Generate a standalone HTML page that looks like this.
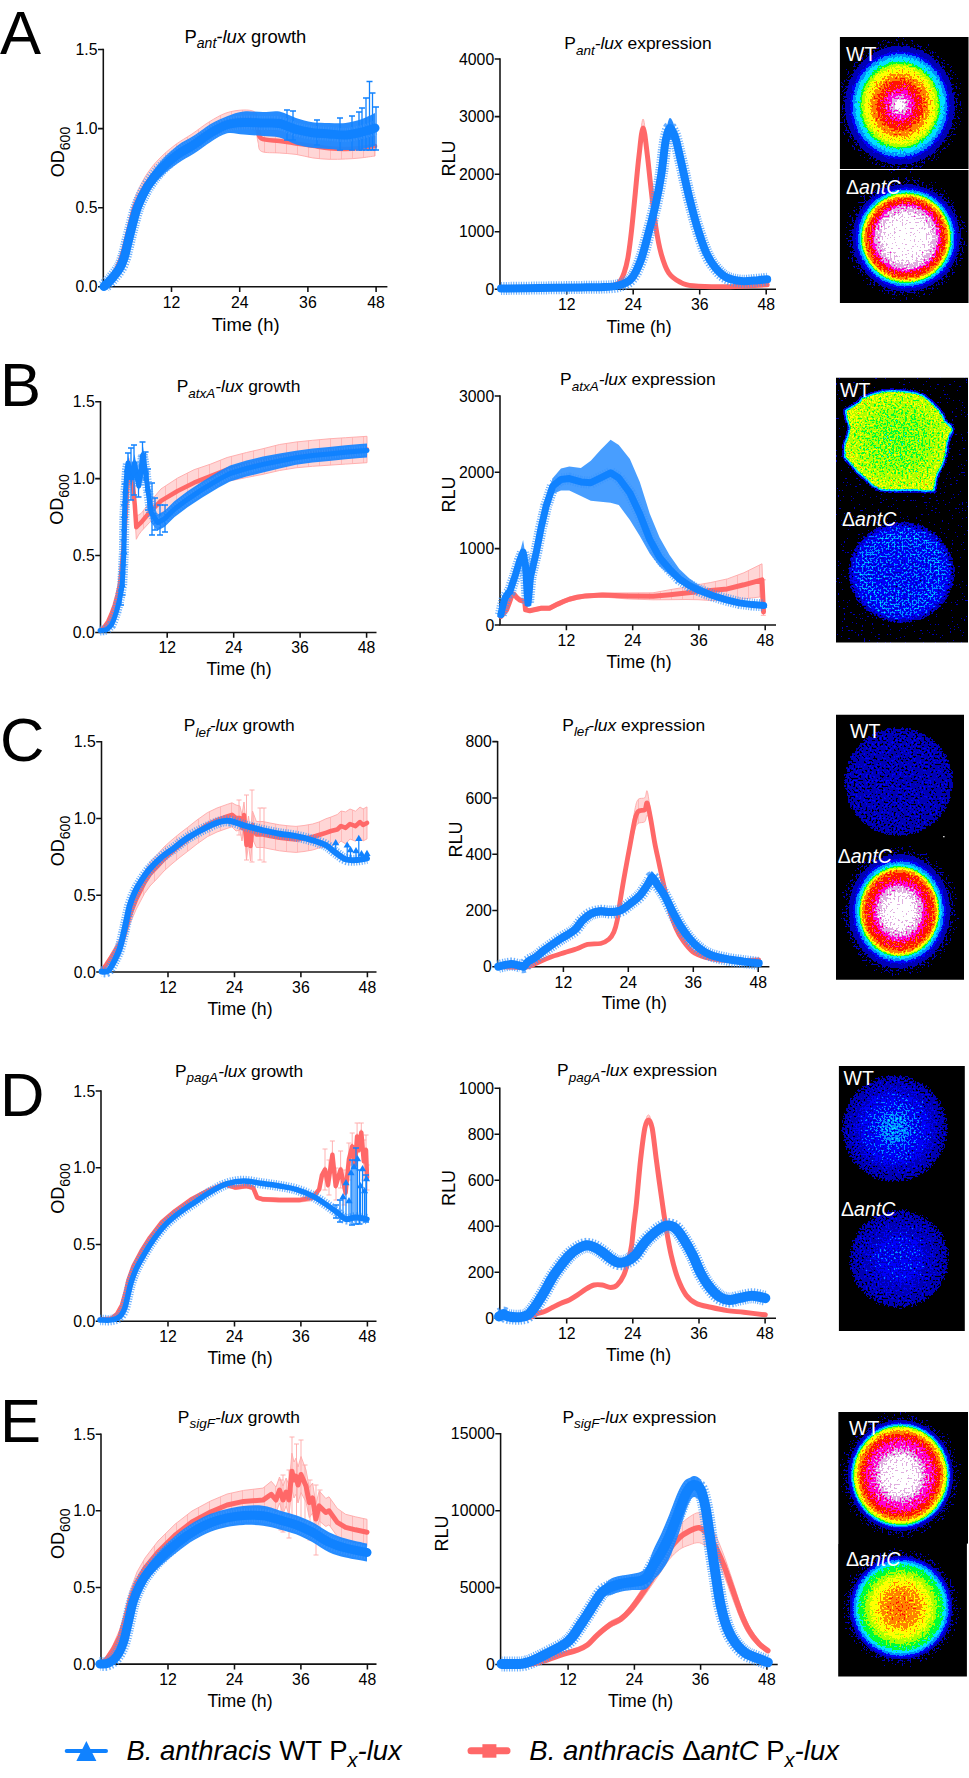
<!DOCTYPE html><html><head><meta charset="utf-8"><title>Figure</title><style>html,body{margin:0;padding:0;background:#fff;}svg{display:block;}</style></head><body>
<svg width="969" height="1778" viewBox="0 0 969 1778" font-family='"Liberation Sans", sans-serif' fill="#000">
<rect width="969" height="1778" fill="#fff"/>
<defs><filter id="lutR" x="0" y="0" width="100%" height="100%" filterUnits="objectBoundingBox" color-interpolation-filters="sRGB"><feTurbulence type="fractalNoise" baseFrequency="0.5" numOctaves="1" seed="4" result="n0"/><feColorMatrix in="n0" type="matrix" values="1 0 0 0 0  1 0 0 0 0  1 0 0 0 0  0 0 0 0 1" result="n"/><feComposite in="SourceGraphic" in2="n" operator="arithmetic" k1="0.300" k2="0.850" k3="0.060" k4="-0.030" result="g"/><feComponentTransfer in="g"><feFuncR type="discrete" tableValues="0.000 0.000 0.000 0.000 0.000 0.000 0.667 1.000 1.000 1.000 1.000 0.882 1.000"/><feFuncG type="discrete" tableValues="0.000 0.000 0.000 0.549 0.882 1.000 1.000 1.000 0.510 0.078 0.000 0.686 1.000"/><feFuncB type="discrete" tableValues="0.000 0.706 0.980 1.000 1.000 0.196 0.000 0.000 0.000 0.000 0.824 0.882 1.000"/><feFuncA type="linear" slope="0" intercept="1"/></feComponentTransfer></filter><filter id="lutB" x="0" y="0" width="100%" height="100%" filterUnits="objectBoundingBox" color-interpolation-filters="sRGB"><feTurbulence type="fractalNoise" baseFrequency="0.5" numOctaves="1" seed="7" result="n0"/><feColorMatrix in="n0" type="matrix" values="1 0 0 0 0  1 0 0 0 0  1 0 0 0 0  0 0 0 0 1" result="n"/><feComposite in="SourceGraphic" in2="n" operator="arithmetic" k1="0.900" k2="0.550" k3="0.200" k4="-0.100" result="g"/><feComponentTransfer in="g"><feFuncR type="discrete" tableValues="0.000 0.000 0.000 0.000 0.000 0.000 0.667 1.000 1.000 1.000 1.000 0.882 1.000"/><feFuncG type="discrete" tableValues="0.000 0.000 0.000 0.549 0.882 1.000 1.000 1.000 0.510 0.078 0.000 0.686 1.000"/><feFuncB type="discrete" tableValues="0.000 0.706 0.980 1.000 1.000 0.196 0.000 0.000 0.000 0.000 0.824 0.882 1.000"/><feFuncA type="linear" slope="0" intercept="1"/></feComponentTransfer></filter><filter id="lutB2" x="0" y="0" width="100%" height="100%" filterUnits="objectBoundingBox" color-interpolation-filters="sRGB"><feTurbulence type="fractalNoise" baseFrequency="0.5" numOctaves="1" seed="11" result="n0"/><feColorMatrix in="n0" type="matrix" values="1 0 0 0 0  1 0 0 0 0  1 0 0 0 0  0 0 0 0 1" result="n"/><feComposite in="SourceGraphic" in2="n" operator="arithmetic" k1="0.900" k2="0.550" k3="0.220" k4="-0.110" result="g"/><feComponentTransfer in="g"><feFuncR type="discrete" tableValues="0.000 0.000 0.000 0.000 0.000 0.000 0.667 1.000 1.000 1.000 1.000 0.882 1.000"/><feFuncG type="discrete" tableValues="0.000 0.000 0.000 0.549 0.882 1.000 1.000 1.000 0.510 0.078 0.000 0.686 1.000"/><feFuncB type="discrete" tableValues="0.000 0.706 0.980 1.000 1.000 0.196 0.000 0.000 0.000 0.000 0.824 0.882 1.000"/><feFuncA type="linear" slope="0" intercept="1"/></feComponentTransfer></filter><filter id="lutY" x="0" y="0" width="100%" height="100%" filterUnits="objectBoundingBox" color-interpolation-filters="sRGB"><feTurbulence type="fractalNoise" baseFrequency="0.55" numOctaves="1" seed="13" result="n0"/><feColorMatrix in="n0" type="matrix" values="1 0 0 0 0  1 0 0 0 0  1 0 0 0 0  0 0 0 0 1" result="n"/><feComposite in="SourceGraphic" in2="n" operator="arithmetic" k1="0.550" k2="0.725" k3="0.120" k4="-0.060" result="g"/><feComponentTransfer in="g"><feFuncR type="discrete" tableValues="0.000 0.000 0.000 0.000 0.000 0.000 0.667 1.000 1.000 1.000 1.000 0.882 1.000"/><feFuncG type="discrete" tableValues="0.000 0.000 0.000 0.549 0.882 1.000 1.000 1.000 0.510 0.078 0.000 0.686 1.000"/><feFuncB type="discrete" tableValues="0.000 0.706 0.980 1.000 1.000 0.196 0.000 0.000 0.000 0.000 0.824 0.882 1.000"/><feFuncA type="linear" slope="0" intercept="1"/></feComponentTransfer><feComposite in2="SourceAlpha" operator="in"/></filter><radialGradient id="hAwt" cx="50%" cy="50%" r="50%"><stop offset="0.000" stop-color="rgb(255,255,255)"/><stop offset="0.080" stop-color="rgb(239,239,239)"/><stop offset="0.150" stop-color="rgb(216,216,216)"/><stop offset="0.270" stop-color="rgb(196,196,196)"/><stop offset="0.410" stop-color="rgb(177,177,177)"/><stop offset="0.520" stop-color="rgb(157,157,157)"/><stop offset="0.640" stop-color="rgb(137,137,137)"/><stop offset="0.690" stop-color="rgb(118,118,118)"/><stop offset="0.720" stop-color="rgb(98,98,98)"/><stop offset="0.800" stop-color="rgb(78,78,78)"/><stop offset="0.850" stop-color="rgb(59,59,59)"/><stop offset="0.890" stop-color="rgb(39,39,39)"/><stop offset="0.960" stop-color="rgb(26,26,26)"/><stop offset="1.000" stop-color="rgb(16,16,16)"/></radialGradient><radialGradient id="hAko" cx="50%" cy="50%" r="50%"><stop offset="0.000" stop-color="rgb(255,255,255)"/><stop offset="0.350" stop-color="rgb(247,247,247)"/><stop offset="0.550" stop-color="rgb(228,228,228)"/><stop offset="0.630" stop-color="rgb(196,196,196)"/><stop offset="0.720" stop-color="rgb(177,177,177)"/><stop offset="0.770" stop-color="rgb(157,157,157)"/><stop offset="0.800" stop-color="rgb(137,137,137)"/><stop offset="0.815" stop-color="rgb(118,118,118)"/><stop offset="0.830" stop-color="rgb(98,98,98)"/><stop offset="0.860" stop-color="rgb(78,78,78)"/><stop offset="0.890" stop-color="rgb(59,59,59)"/><stop offset="0.930" stop-color="rgb(39,39,39)"/><stop offset="0.970" stop-color="rgb(26,26,26)"/><stop offset="1.000" stop-color="rgb(16,16,16)"/></radialGradient><radialGradient id="hCko" cx="50%" cy="50%" r="50%"><stop offset="0.000" stop-color="rgb(255,255,255)"/><stop offset="0.250" stop-color="rgb(245,245,245)"/><stop offset="0.400" stop-color="rgb(228,228,228)"/><stop offset="0.500" stop-color="rgb(200,200,200)"/><stop offset="0.670" stop-color="rgb(177,177,177)"/><stop offset="0.720" stop-color="rgb(157,157,157)"/><stop offset="0.750" stop-color="rgb(137,137,137)"/><stop offset="0.765" stop-color="rgb(118,118,118)"/><stop offset="0.780" stop-color="rgb(98,98,98)"/><stop offset="0.820" stop-color="rgb(78,78,78)"/><stop offset="0.860" stop-color="rgb(59,59,59)"/><stop offset="0.900" stop-color="rgb(39,39,39)"/><stop offset="0.960" stop-color="rgb(26,26,26)"/><stop offset="1.000" stop-color="rgb(16,16,16)"/></radialGradient><radialGradient id="hEwt" cx="50%" cy="50%" r="50%"><stop offset="0.000" stop-color="rgb(255,255,255)"/><stop offset="0.370" stop-color="rgb(237,237,237)"/><stop offset="0.470" stop-color="rgb(216,216,216)"/><stop offset="0.650" stop-color="rgb(196,196,196)"/><stop offset="0.750" stop-color="rgb(177,177,177)"/><stop offset="0.810" stop-color="rgb(157,157,157)"/><stop offset="0.860" stop-color="rgb(137,137,137)"/><stop offset="0.875" stop-color="rgb(118,118,118)"/><stop offset="0.890" stop-color="rgb(98,98,98)"/><stop offset="0.910" stop-color="rgb(78,78,78)"/><stop offset="0.930" stop-color="rgb(59,59,59)"/><stop offset="0.950" stop-color="rgb(39,39,39)"/><stop offset="0.990" stop-color="rgb(26,26,26)"/><stop offset="1.000" stop-color="rgb(16,16,16)"/></radialGradient><radialGradient id="hEko" cx="50%" cy="50%" r="50%"><stop offset="0.000" stop-color="rgb(172,172,172)"/><stop offset="0.200" stop-color="rgb(167,167,167)"/><stop offset="0.400" stop-color="rgb(157,157,157)"/><stop offset="0.600" stop-color="rgb(137,137,137)"/><stop offset="0.700" stop-color="rgb(118,118,118)"/><stop offset="0.830" stop-color="rgb(98,98,98)"/><stop offset="0.880" stop-color="rgb(78,78,78)"/><stop offset="0.920" stop-color="rgb(59,59,59)"/><stop offset="0.960" stop-color="rgb(39,39,39)"/><stop offset="0.990" stop-color="rgb(26,26,26)"/><stop offset="1.000" stop-color="rgb(16,16,16)"/></radialGradient><radialGradient id="hCwt" cx="50%" cy="50%" r="50%"><stop offset="0.000" stop-color="rgb(31,31,31)"/><stop offset="0.600" stop-color="rgb(30,30,30)"/><stop offset="0.850" stop-color="rgb(28,28,28)"/><stop offset="0.950" stop-color="rgb(24,24,24)"/><stop offset="1.000" stop-color="rgb(16,16,16)"/></radialGradient><radialGradient id="hDwt" cx="50%" cy="50%" r="50%"><stop offset="0.000" stop-color="rgb(64,64,64)"/><stop offset="0.300" stop-color="rgb(58,58,58)"/><stop offset="0.500" stop-color="rgb(47,47,47)"/><stop offset="0.750" stop-color="rgb(37,37,37)"/><stop offset="0.900" stop-color="rgb(26,26,26)"/><stop offset="1.000" stop-color="rgb(16,16,16)"/></radialGradient><radialGradient id="hDko" cx="50%" cy="50%" r="50%"><stop offset="0.000" stop-color="rgb(45,45,45)"/><stop offset="0.400" stop-color="rgb(42,42,42)"/><stop offset="0.700" stop-color="rgb(34,34,34)"/><stop offset="0.900" stop-color="rgb(25,25,25)"/><stop offset="1.000" stop-color="rgb(16,16,16)"/></radialGradient><radialGradient id="hBko" cx="50%" cy="50%" r="50%"><stop offset="0.000" stop-color="rgb(51,51,51)"/><stop offset="0.450" stop-color="rgb(53,53,53)"/><stop offset="0.750" stop-color="rgb(58,58,58)"/><stop offset="0.880" stop-color="rgb(49,49,49)"/><stop offset="0.960" stop-color="rgb(31,31,31)"/><stop offset="1.000" stop-color="rgb(18,18,18)"/></radialGradient><radialGradient id="hBwt" cx="50%" cy="50%" r="50%"><stop offset="0.000" stop-color="rgb(118,118,118)"/><stop offset="0.500" stop-color="rgb(122,122,122)"/><stop offset="0.800" stop-color="rgb(129,129,129)"/><stop offset="1.000" stop-color="rgb(137,137,137)"/></radialGradient><radialGradient id="halo" cx="50%" cy="50%" r="50%"><stop offset="0.000" stop-color="rgb(20,20,20)"/><stop offset="0.840" stop-color="rgb(20,20,20)"/><stop offset="0.900" stop-color="rgb(18,18,18)"/><stop offset="1.000" stop-color="rgb(14,14,14)"/></radialGradient><clipPath id="cl0"><rect x="839.9" y="36.9" width="128.6" height="266"/></clipPath><clipPath id="cl1"><rect x="836" y="377.7" width="132" height="264.9"/></clipPath><clipPath id="cl2"><rect x="836" y="714.8" width="128" height="265"/></clipPath><clipPath id="cl3"><rect x="838.9" y="1066" width="125.9" height="265"/></clipPath><clipPath id="cl4"><rect x="838.2" y="1411.9" width="129.8" height="264.6"/></clipPath><pattern id="pinkv" patternUnits="userSpaceOnUse" width="11" height="20"><rect width="11" height="20" fill="#ffd6d6"/><rect width="1" height="20" fill="#ffb8b8"/></pattern></defs>
<text x="0" y="53.7" font-size="61.5">A</text>
<text x="0" y="405.7" font-size="61.5">B</text>
<text x="0" y="761" font-size="61.5">C</text>
<text x="0" y="1115.6" font-size="61.5">D</text>
<text x="0" y="1441.7" font-size="61.5">E</text>
<path d="M103.3,48.8 V286.8 H387.4" fill="none" stroke="#111111" stroke-width="1.55"/>
<path d="M98,286.8 H103.3 M98,207.7 H103.3 M98,128.6 H103.3 M98,49.5 H103.3 M171.5,286.8 V292.1 M239.7,286.8 V292.1 M307.9,286.8 V292.1 M376.1,286.8 V292.1 " stroke="#111111" stroke-width="1.55" fill="none"/>
<g>
<path d="M104,285.5 C105,284.1 107.8,280.8 110,277 C112.2,273.2 115.2,267.2 117,263 C118.8,258.8 119.8,255.7 121,252 C122.2,248.3 122.7,246.3 124,241 C125.3,235.7 127.2,227.2 129,220 C130.8,212.8 132.3,205.2 135,198 C137.7,190.8 141.2,183.3 145,177 C148.8,170.7 153,165.3 158,160 C163,154.7 169.3,149.3 175,145 C180.7,140.7 186.3,137.8 192,134 C197.7,130.2 203.3,125.5 209,122 C214.7,118.5 220.3,115 226,113 C231.7,111 238.2,110.2 243,110 C247.8,109.8 252.5,110.3 255,112 C257.5,113.7 256.9,117.3 258,120 C259.1,122.7 257.8,126.6 261.4,128.4 C265,130.2 273.7,130.2 279.5,131 C285.3,131.8 290.5,132.6 296,133.4 C301.5,134.2 307.1,135.1 312.6,135.9 C318.1,136.7 323.5,137.8 329,138.3 C334.5,138.8 340.4,139.1 345.6,139 C350.8,138.9 355.1,138.5 360,138 C364.9,137.5 372.5,136.3 375,136 L375,156 C372.5,156.3 364.9,157.5 360,158 C355.1,158.5 350.8,158.8 345.6,159 C340.4,159.2 334.5,159.5 329,159.3 C323.5,159.1 318.1,158.7 312.6,157.9 C307.1,157.1 301.5,155.2 296,154.4 C290.5,153.6 285.3,153.5 279.5,153 C273.7,152.5 265,153.2 261.4,151.4 C257.8,149.6 259.1,145.4 258,142 C256.9,138.6 257.5,133.3 255,131 C252.5,128.7 247.8,128 243,128 C238.2,128 231.7,129 226,131 C220.3,133 214.7,136.5 209,140 C203.3,143.5 197.7,148.2 192,152 C186.3,155.8 180.7,158.7 175,163 C169.3,167.3 163,172.7 158,178 C153,183.3 148.8,189 145,195 C141.2,201 137.7,207.2 135,214 C132.3,220.8 130.8,229.2 129,236 C127.2,242.8 125.3,250.3 124,255 C122.7,259.7 122.2,261 121,264 C119.8,267 118.8,269.8 117,273 C115.2,276.2 112.2,280.6 110,283 C107.8,285.4 105,286.8 104,287.5 Z" fill="url(#pinkv)" stroke="#ffa8a8" stroke-width="1" stroke-opacity="0.9"/>
<path d="M104,286.5 C105,285.4 107.8,283.1 110,280 C112.2,276.9 115.2,271.7 117,268 C118.8,264.3 119.8,261.3 121,258 C122.2,254.7 122.7,253 124,248 C125.3,243 127.2,235 129,228 C130.8,221 132.3,213 135,206 C137.7,199 141.2,192.2 145,186 C148.8,179.8 153,174.3 158,169 C163,163.7 169.3,158.3 175,154 C180.7,149.7 186.3,146.8 192,143 C197.7,139.2 203.3,134.5 209,131 C214.7,127.5 220.3,124 226,122 C231.7,120 238.2,119.2 243,119 C247.8,118.8 252.5,119.2 255,121 C257.5,122.8 256.9,127.1 258,130 C259.1,132.9 257.8,136.6 261.4,138.4 C265,140.2 273.7,140.2 279.5,141 C285.3,141.8 290.5,142.6 296,143.4 C301.5,144.2 307.1,145.1 312.6,145.9 C318.1,146.7 323.5,147.8 329,148.3 C334.5,148.8 340.4,149.1 345.6,149 C350.8,148.9 355.1,148.5 360,148 C364.9,147.5 372.5,146.3 375,146" fill="none" stroke="#ff6868" stroke-width="4.5" stroke-linejoin="round" stroke-linecap="round"/>
<path d="M104,285.5 C105.2,283.9 108.9,279.6 111.5,276 C114.1,272.4 117.7,267.7 119.8,264 C121.9,260.3 122.9,257.3 124,254 C125.1,250.7 125.2,249 126.4,244 C127.6,239 129.4,231.3 131.3,224 C133.2,216.7 135.2,207.5 137.9,200 C140.7,192.5 144,185.5 147.8,179 C151.7,172.5 156,166.6 161,161 C166,155.4 172.1,149.7 177.6,145.5 C183.1,141.3 188.6,139.2 194.1,135.6 C199.6,132 205.1,127.2 210.6,124 C216.1,120.8 221.6,118.4 227.1,116.3 C232.6,114.2 237.6,112.2 243.6,111.5 C249.6,110.8 257,112 263,112 C269,112 274,110.5 279.5,111.5 C285,112.5 290.5,116.1 296,117.9 C301.5,119.7 307.1,121.4 312.6,122.2 C318.1,123 323.5,122.8 329,122.9 C334.5,123 340.1,123.7 345.6,123 C351.1,122.3 357.1,120.7 362,119 C366.9,117.3 372.8,114 375,113 L375,146 C372.8,146.5 366.9,148.3 362,149 C357.1,149.7 351.1,150 345.6,150 C340.1,150 334.5,149.3 329,148.9 C323.5,148.5 318.1,148.4 312.6,147.7 C307.1,146.9 301.5,146.1 296,144.4 C290.5,142.7 285,138.9 279.5,137.5 C274,136.1 269,136.5 263,136 C257,135.5 249.6,134.9 243.6,134.5 C237.6,134.1 232.6,132.1 227.1,133.3 C221.6,134.6 216.1,138.6 210.6,142 C205.1,145.4 199.6,150 194.1,153.6 C188.6,157.2 183.1,159.6 177.6,163.5 C172.1,167.4 166,172.1 161,177 C156,181.9 151.7,187.2 147.8,193 C144,198.8 140.7,205.2 137.9,212 C135.2,218.8 133.2,227 131.3,234 C129.4,241 127.6,249.3 126.4,254 C125.2,258.7 125.1,259 124,262 C122.9,265 121.9,268.7 119.8,272 C117.7,275.3 114.1,279.4 111.5,282 C108.9,284.6 105.2,286.6 104,287.5 Z" fill="#1a86ff" fill-opacity="0.95"/>
<path d="M369.5,81.5 V150 M366.5,81.5 h6 M366.5,150 h6" stroke="#1082ff" stroke-width="1.3" fill="none"/>
<path d="M372.5,93 V150 M369.5,93 h6 M369.5,150 h6" stroke="#1082ff" stroke-width="1.3" fill="none"/>
<path d="M366,98 V150 M363,98 h6 M363,150 h6" stroke="#1082ff" stroke-width="1.3" fill="none"/>
<path d="M362,108 V150 M359,108 h6 M359,150 h6" stroke="#1082ff" stroke-width="1.3" fill="none"/>
<path d="M359,112 V150 M356,112 h6 M356,150 h6" stroke="#1082ff" stroke-width="1.3" fill="none"/>
<path d="M352,116 V150 M349,116 h6 M349,150 h6" stroke="#1082ff" stroke-width="1.3" fill="none"/>
<path d="M376,107 V150 M373,107 h6 M373,150 h6" stroke="#1082ff" stroke-width="1.3" fill="none"/>
<path d="M340,118 V150 M337,118 h6 M337,150 h6" stroke="#1082ff" stroke-width="1.3" fill="none"/>
<path d="M317,120 V145 M314,120 h6 M314,145 h6" stroke="#1082ff" stroke-width="1.3" fill="none"/>
<path d="M293,111 V140 M290,111 h6 M290,140 h6" stroke="#1082ff" stroke-width="1.3" fill="none"/>
<path d="M287,110 V140 M284,110 h6 M284,140 h6" stroke="#1082ff" stroke-width="1.3" fill="none"/>
<path d="M104,286.5 C105.2,285.2 108.9,282.1 111.5,279 C114.1,275.9 117.7,271.5 119.8,268 C121.9,264.5 122.9,261.2 124,258 C125.1,254.8 125.2,253.8 126.4,249 C127.6,244.2 129.4,236.2 131.3,229 C133.2,221.8 135.2,213.2 137.9,206 C140.7,198.8 144,192.2 147.8,186 C151.7,179.8 156,174.2 161,169 C166,163.8 172.1,158.6 177.6,154.5 C183.1,150.4 188.6,148.2 194.1,144.6 C199.6,141 205.1,136.3 210.6,133 C216.1,129.7 221.6,126.5 227.1,124.8 C232.6,123 237.6,122.8 243.6,122.5 C249.6,122.2 257,122.8 263,123 C269,123.2 274,122.4 279.5,123.5 C285,124.6 290.5,127.9 296,129.4 C301.5,130.9 307.1,131.9 312.6,132.7 C318.1,133.4 323.5,133.5 329,133.9 C334.5,134.3 340.1,135.3 345.6,135 C351.1,134.7 357.1,133.2 362,132 C366.9,130.8 372.8,128.7 375,128" fill="none" stroke="#3a96ff" stroke-width="14" stroke-dasharray="1.1 1.4" stroke-opacity="0.75"/>
<path d="M104,286.5 C105.2,285.2 108.9,282.1 111.5,279 C114.1,275.9 117.7,271.5 119.8,268 C121.9,264.5 122.9,261.2 124,258 C125.1,254.8 125.2,253.8 126.4,249 C127.6,244.2 129.4,236.2 131.3,229 C133.2,221.8 135.2,213.2 137.9,206 C140.7,198.8 144,192.2 147.8,186 C151.7,179.8 156,174.2 161,169 C166,163.8 172.1,158.6 177.6,154.5 C183.1,150.4 188.6,148.2 194.1,144.6 C199.6,141 205.1,136.3 210.6,133 C216.1,129.7 221.6,126.5 227.1,124.8 C232.6,123 237.6,122.8 243.6,122.5 C249.6,122.2 257,122.8 263,123 C269,123.2 274,122.4 279.5,123.5 C285,124.6 290.5,127.9 296,129.4 C301.5,130.9 307.1,131.9 312.6,132.7 C318.1,133.4 323.5,133.5 329,133.9 C334.5,134.3 340.1,135.3 345.6,135 C351.1,134.7 357.1,133.2 362,132 C366.9,130.8 372.8,128.7 375,128" fill="none" stroke="#1082ff" stroke-width="9" stroke-linejoin="round" stroke-linecap="round"/>
</g>
<text x="97.5" y="292.4" text-anchor="end" font-size="15.8">0.0</text>
<text x="97.5" y="213.3" text-anchor="end" font-size="15.8">0.5</text>
<text x="97.5" y="134.2" text-anchor="end" font-size="15.8">1.0</text>
<text x="97.5" y="55.1" text-anchor="end" font-size="15.8">1.5</text>
<text x="171.5" y="307.6" text-anchor="middle" font-size="15.8">12</text>
<text x="239.7" y="307.6" text-anchor="middle" font-size="15.8">24</text>
<text x="307.9" y="307.6" text-anchor="middle" font-size="15.8">36</text>
<text x="376.1" y="307.6" text-anchor="middle" font-size="15.8">48</text>
<text x="245.7" y="330.9" text-anchor="middle" font-size="18.4">Time (h)</text>
<text transform="translate(64.3,152) rotate(-90)" text-anchor="middle" font-size="18">OD<tspan font-size="14.2" dy="5.6">600</tspan></text>
<text x="245.4" y="42.7" text-anchor="middle" font-size="18.4">P<tspan font-style="italic" font-size="14" dy="5.6">ant</tspan><tspan font-style="italic" dy="-5.6">-lux</tspan> growth</text>
<path d="M500,58.3 V289.3 H776" fill="none" stroke="#111111" stroke-width="1.55"/>
<path d="M494.7,289.3 H500 M494.7,231.7 H500 M494.7,174.2 H500 M494.7,116.6 H500 M494.7,59 H500 M566.7,289.3 V294.6 M633.2,289.3 V294.6 M699.7,289.3 V294.6 M766.2,289.3 V294.6 " stroke="#111111" stroke-width="1.55" fill="none"/>
<g>
<path d="M500,288.8 C510,288.7 543.3,288.7 560,288.3 C576.7,287.9 591.5,287.1 600,286.7 C608.5,286.3 608,286.4 611.1,285.8 C614.2,285.2 616.4,285.3 618.6,283 C620.8,280.7 622.6,276.3 624.1,271.8 C625.6,267.3 626.6,263.4 627.9,255.9 C629.1,248.4 630.4,238.2 631.6,227 C632.8,215.8 634.1,201.8 635.3,188.9 C636.5,176 637.7,161.3 639,149.7 C640.3,138 641.7,118.8 643.1,119 C644.5,119.2 646.1,139.5 647.4,150.7 C648.7,161.9 649.7,173.9 651.1,186.2 C652.5,198.5 654,213.1 655.7,224.3 C657.4,235.5 659.1,245.1 661.3,253.2 C663.5,261.3 665.6,268 668.7,272.8 C671.8,277.6 675.9,279.8 679.9,282 C683.9,284.2 684.5,285 692.9,285.8 C701.2,286.6 717.6,286.9 730,286.7 C742.4,286.5 761,285.1 767.2,284.8 L767.2,284.8 C761,285.1 742.4,286.5 730,286.7 C717.6,286.9 701.2,286.6 692.9,285.8 C684.5,285 683.9,284.2 679.9,282 C675.9,279.8 671.8,277.3 668.7,272.8 C665.6,268.3 663.5,262.6 661.3,255.2 C659.1,247.8 657.4,238.8 655.7,228.3 C654,217.8 652.5,203.5 651.1,192.2 C649.7,180.9 648.7,170.1 647.4,160.7 C646.1,151.3 644.5,135.8 643.1,136 C641.7,136.2 640.3,151.5 639,161.7 C637.7,171.8 636.5,185 635.3,196.9 C634.1,208.8 632.8,222.5 631.6,233 C630.4,243.5 629.1,253.1 627.9,259.9 C626.6,266.7 625.6,269.9 624.1,273.8 C622.6,277.7 620.8,281 618.6,283 C616.4,285 614.2,285.2 611.1,285.8 C608,286.4 608.5,286.3 600,286.7 C591.5,287.1 576.7,287.9 560,288.3 C543.3,288.7 510,288.7 500,288.8 Z" fill="url(#pinkv)" stroke="#ffa8a8" stroke-width="1" stroke-opacity="0.9"/>
<path d="M500,288.8 C510,288.7 543.3,288.7 560,288.3 C576.7,287.9 591.5,287.1 600,286.7 C608.5,286.3 608,286.4 611.1,285.8 C614.2,285.2 616.4,285.2 618.6,283 C620.8,280.8 622.6,277 624.1,272.8 C625.6,268.6 626.6,265 627.9,257.9 C629.1,250.8 630.4,240.8 631.6,230 C632.8,219.2 634.1,205.3 635.3,192.9 C636.5,180.5 637.7,166.5 639,155.7 C640.3,144.9 641.7,128 643.1,128 C644.5,128 646.1,145.5 647.4,155.7 C648.7,165.9 649.7,177.4 651.1,189.2 C652.5,201 654,215.5 655.7,226.3 C657.4,237.1 659.1,246.4 661.3,254.2 C663.5,261.9 665.6,268.2 668.7,272.8 C671.8,277.4 675.9,279.8 679.9,282 C683.9,284.2 684.5,285 692.9,285.8 C701.2,286.6 717.6,286.9 730,286.7 C742.4,286.5 761,285.1 767.2,284.8" fill="none" stroke="#ff6868" stroke-width="5" stroke-linejoin="round" stroke-linecap="round"/>
<path d="M501,288.5 C507.5,288.4 526.8,288.2 540,288 C553.2,287.8 570,287.5 580,287.4 C590,287.3 593.6,287.7 600,287.2 C606.4,286.7 613.3,286.3 618.6,284.5 C623.9,282.7 627.9,280.9 631.6,276.3 C635.3,271.7 638.1,264.4 640.9,256.8 C643.7,249.2 645.8,240.1 648.3,230.8 C650.8,221.5 653.5,211.1 655.7,201 C657.9,190.9 659.8,180.8 661.3,170.3 C662.8,159.8 664,145.7 665,138 C666,130.3 666.7,127.3 667.5,124 C668.3,120.7 668.9,118.5 669.7,118 C670.5,117.5 671.5,118.7 672.5,121 C673.5,123.3 674.6,126.1 676,132 C677.4,137.9 678.8,146.4 681,156.3 C683.2,166.2 686.3,180.6 689,191.6 C691.7,202.6 694.2,212.7 697,222.3 C699.8,231.9 703,242.3 706,249.3 C709,256.3 711.6,259.9 715,264.2 C718.4,268.5 721.9,272.9 726.3,275.4 C730.7,277.9 735.9,278.6 741.2,279.1 C746.5,279.6 753.6,278.5 757.9,278.2 C762.2,277.9 765.7,277.4 767.2,277.3 L767.2,281.3 C765.7,281.4 762.2,281.9 757.9,282.2 C753.6,282.5 746.5,283.6 741.2,283.1 C735.9,282.6 730.7,281.5 726.3,279.4 C721.9,277.2 718.4,274.2 715,270.2 C711.6,266.2 709,261.9 706,255.3 C703,248.7 699.8,239.2 697,230.3 C694.2,221.4 691.7,212.3 689,201.6 C686.3,190.9 683.2,175.2 681,166.3 C678.8,157.4 677.4,152.2 676,148 C674.6,143.8 673.5,142.3 672.5,141 C671.5,139.7 670.5,139.8 669.7,140 C668.9,140.2 668.3,140.2 667.5,142 C666.7,143.8 666,144.9 665,151 C664,157.1 662.8,169 661.3,178.3 C659.8,187.6 657.9,197.2 655.7,207 C653.5,216.8 650.8,227.5 648.3,236.8 C645.8,246.1 643.7,255.6 640.9,262.8 C638.1,270.1 635.3,276.4 631.6,280.3 C627.9,284.2 623.9,285.4 618.6,286.5 C613.3,287.6 606.4,287.1 600,287.2 C593.6,287.3 590,287.3 580,287.4 C570,287.5 553.2,287.8 540,288 C526.8,288.2 507.5,288.4 501,288.5 Z" fill="#1a86ff" fill-opacity="0.95"/>
<path d="M501,288.5 C507.5,288.4 526.8,288.2 540,288 C553.2,287.8 570,287.5 580,287.4 C590,287.3 593.6,287.5 600,287.2 C606.4,286.9 613.3,287 618.6,285.5 C623.9,284 627.9,282.6 631.6,278.3 C635.3,274 638.1,267.2 640.9,259.8 C643.7,252.4 645.8,243.1 648.3,233.8 C650.8,224.5 653.5,213.9 655.7,204 C657.9,194.1 659.8,184.1 661.3,174.3 C662.8,164.5 664,151.9 665,145 C666,138.1 666.7,135.8 667.5,133 C668.3,130.2 668.9,128.3 669.7,128 C670.5,127.7 671.5,129 672.5,131 C673.5,133 674.6,134.9 676,140 C677.4,145.1 678.8,151.9 681,161.3 C683.2,170.7 686.3,185.8 689,196.6 C691.7,207.4 694.2,217 697,226.3 C699.8,235.6 703,245.5 706,252.3 C709,259.1 711.6,263 715,267.2 C718.4,271.4 721.9,275.1 726.3,277.4 C730.7,279.7 735.9,280.6 741.2,281.1 C746.5,281.6 753.6,280.5 757.9,280.2 C762.2,279.9 765.7,279.4 767.2,279.3" fill="none" stroke="#3a96ff" stroke-width="13" stroke-dasharray="1.1 1.4" stroke-opacity="0.75"/>
<path d="M501,288.5 C507.5,288.4 526.8,288.2 540,288 C553.2,287.8 570,287.5 580,287.4 C590,287.3 593.6,287.5 600,287.2 C606.4,286.9 613.3,287 618.6,285.5 C623.9,284 627.9,282.6 631.6,278.3 C635.3,274 638.1,267.2 640.9,259.8 C643.7,252.4 645.8,243.1 648.3,233.8 C650.8,224.5 653.5,213.9 655.7,204 C657.9,194.1 659.8,184.1 661.3,174.3 C662.8,164.5 664,151.9 665,145 C666,138.1 666.7,135.8 667.5,133 C668.3,130.2 668.9,128.3 669.7,128 C670.5,127.7 671.5,129 672.5,131 C673.5,133 674.6,134.9 676,140 C677.4,145.1 678.8,151.9 681,161.3 C683.2,170.7 686.3,185.8 689,196.6 C691.7,207.4 694.2,217 697,226.3 C699.8,235.6 703,245.5 706,252.3 C709,259.1 711.6,263 715,267.2 C718.4,271.4 721.9,275.1 726.3,277.4 C730.7,279.7 735.9,280.6 741.2,281.1 C746.5,281.6 753.6,280.5 757.9,280.2 C762.2,279.9 765.7,279.4 767.2,279.3" fill="none" stroke="#1082ff" stroke-width="8" stroke-linejoin="round" stroke-linecap="round"/>
</g>
<text x="494.2" y="294.9" text-anchor="end" font-size="15.8">0</text>
<text x="494.2" y="237.3" text-anchor="end" font-size="15.8">1000</text>
<text x="494.2" y="179.8" text-anchor="end" font-size="15.8">2000</text>
<text x="494.2" y="122.2" text-anchor="end" font-size="15.8">3000</text>
<text x="494.2" y="64.6" text-anchor="end" font-size="15.8">4000</text>
<text x="566.7" y="310.1" text-anchor="middle" font-size="15.8">12</text>
<text x="633.2" y="310.1" text-anchor="middle" font-size="15.8">24</text>
<text x="699.7" y="310.1" text-anchor="middle" font-size="15.8">36</text>
<text x="766.2" y="310.1" text-anchor="middle" font-size="15.8">48</text>
<text x="639" y="332.8" text-anchor="middle" font-size="17.7">Time (h)</text>
<text transform="translate(455,158.6) rotate(-90)" text-anchor="middle" font-size="18">RLU</text>
<text x="638" y="48.9" text-anchor="middle" font-size="17.4">P<tspan font-style="italic" font-size="13.5" dy="5.6">ant</tspan><tspan font-style="italic" dy="-5.6">-lux</tspan> expression</text>
<path d="M100.5,401 V632.4 H376.5" fill="none" stroke="#111111" stroke-width="1.55"/>
<path d="M95.2,632.4 H100.5 M95.2,555.5 H100.5 M95.2,478.6 H100.5 M95.2,401.7 H100.5 M167.2,632.4 V637.7 M233.7,632.4 V637.7 M300.1,632.4 V637.7 M366.6,632.4 V637.7 " stroke="#111111" stroke-width="1.55" fill="none"/>
<g>
<path d="M100.5,630 L104,626.5 L108.2,619.5 L111.5,611 L114.8,601.9 L117.5,591 L119.8,581.1 L121.5,565 L123.1,547.1 L124.8,522 L126.4,496.6 L127.8,475 L128.9,458.2 L131,468 L133,477 L134.8,495 L136.3,515.3 L138.5,515 L141.2,513.4 L149.5,502.5 L161,488.9 L177.6,478 L194.1,469.7 L210.6,464.1 L227.1,457.5 L246.5,452.5 L263,448.7 L279.5,444.5 L296,442 L312.6,440.3 L329,438.8 L345.6,437.7 L367,436.3 L367,462.7 L345.6,464.1 L329,465.2 L312.6,466.3 L296,467.8 L279.5,470.5 L263,474.3 L246.5,477.5 L227.1,481.5 L210.6,488.1 L194.1,495.7 L177.6,504 L161,512.9 L149.5,522.5 L141.2,531.4 L138.5,535 L136.3,539.3 L134.8,515 L133,495 L131,484 L128.9,474.2 L127.8,489 L126.4,508.6 L124.8,534 L123.1,557.1 L121.5,575 L119.8,589.1 L117.5,599 L114.8,607.9 L111.5,617 L108.2,623.5 L104,628.5 L100.5,630 Z" fill="url(#pinkv)" stroke="#ffa8a8" stroke-width="1" stroke-opacity="0.9"/>
<path d="M100.5,630 L104,627.5 L108.2,621.5 L111.5,614 L114.8,604.9 L117.5,595 L119.8,585.1 L121.5,570 L123.1,552.1 L124.8,528 L126.4,502.6 L127.8,482 L128.9,466.2 L131,476 L133,486 L134.8,505 L136.3,527.3 L138.5,525 L141.2,522.4 L149.5,512.5 L161,500.9 L177.6,491 L194.1,482.7 L210.6,476.1 L227.1,469.5 L246.5,465 L263,461.5 L279.5,457.5 L296,454.9 L312.6,453.3 L329,452 L345.6,450.9 L367,449.5" fill="none" stroke="#ff6868" stroke-width="4.5" stroke-linejoin="round" stroke-linecap="round"/>
<path d="M100,630.5 L103,630.3 L106.6,628.7 L109,626.5 L111.5,622.8 L114,617 L116.5,609.5 L118.2,602 L119.8,595.3 L122.2,582.1 L123.9,548.1 L124.4,510.8 L125.5,485 L127,463 L128,454.9 L129.6,462 L131.3,469.8 L134.6,453.9 L136.8,468 L138.8,480 L142.9,445.7 L145.5,464 L147.8,480.4 L151.1,502.5 L157.7,514.4 L164.4,511.1 L174.3,501.2 L187.5,491.3 L202.3,481.4 L218.8,471.4 L230,465.5 L246.5,460.5 L263,456.4 L279.5,453.5 L296,450.8 L312.6,448.5 L329,447 L345.6,445.2 L360,444 L367,443.4 L367,457.4 L360,458 L345.6,459.2 L329,461 L312.6,462.5 L296,464.8 L279.5,468.5 L263,472.4 L246.5,476.5 L230,481.5 L218.8,487.4 L202.3,497.4 L187.5,507.3 L174.3,517.2 L164.4,527.1 L157.7,530.4 L151.1,522.5 L147.8,498.4 L145.5,480 L142.9,463.7 L138.8,492 L136.8,484 L134.6,471.9 L131.3,485.8 L129.6,478 L128,470.9 L127,477 L125.5,497 L124.4,520.8 L123.9,556.1 L122.2,588.1 L119.8,601.3 L118.2,608 L116.5,613.5 L114,621 L111.5,626.8 L109,628.5 L106.6,630.7 L103,630.3 L100,630.5 Z" fill="#1a86ff" fill-opacity="0.95"/>
<path d="M128,453 V472 M125,453 h6 M125,472 h6" stroke="#1082ff" stroke-width="1.3" fill="none"/>
<path d="M131,448 V500 M128,448 h6 M128,500 h6" stroke="#1082ff" stroke-width="1.3" fill="none"/>
<path d="M134,445 V495 M131,445 h6 M131,495 h6" stroke="#1082ff" stroke-width="1.3" fill="none"/>
<path d="M138.5,473 V497 M135.5,473 h6 M135.5,497 h6" stroke="#1082ff" stroke-width="1.3" fill="none"/>
<path d="M142.5,442 V478 M139.5,442 h6 M139.5,478 h6" stroke="#1082ff" stroke-width="1.3" fill="none"/>
<path d="M145.6,452 V480 M142.6,452 h6 M142.6,480 h6" stroke="#1082ff" stroke-width="1.3" fill="none"/>
<path d="M148,469 V510 M145,469 h6 M145,510 h6" stroke="#1082ff" stroke-width="1.3" fill="none"/>
<path d="M152,483 V535 M149,483 h6 M149,535 h6" stroke="#1082ff" stroke-width="1.3" fill="none"/>
<path d="M155,498 V530 M152,498 h6 M152,530 h6" stroke="#1082ff" stroke-width="1.3" fill="none"/>
<path d="M125,484 V502 M122,484 h6 M122,502 h6" stroke="#1082ff" stroke-width="1.3" fill="none"/>
<path d="M124,505 V530 M121,505 h6 M121,530 h6" stroke="#1082ff" stroke-width="1.3" fill="none"/>
<path d="M123.5,540 V565 M120.5,540 h6 M120.5,565 h6" stroke="#1082ff" stroke-width="1.3" fill="none"/>
<path d="M122.5,573 V595 M119.5,573 h6 M119.5,595 h6" stroke="#1082ff" stroke-width="1.3" fill="none"/>
<path d="M121,590 V605 M118,590 h6 M118,605 h6" stroke="#1082ff" stroke-width="1.3" fill="none"/>
<path d="M160,505 V535 M157,505 h6 M157,535 h6" stroke="#1082ff" stroke-width="1.3" fill="none"/>
<path d="M165,505 V532 M162,505 h6 M162,532 h6" stroke="#1082ff" stroke-width="1.3" fill="none"/>
<path d="M100,630.5 L103,630.3 L106.6,629.7 L109,627.5 L111.5,624.8 L114,619 L116.5,611.5 L118.2,605 L119.8,598.3 L122.2,585.1 L123.9,552.1 L124.4,515.8 L125.5,491 L127,470 L128,462.9 L129.6,470 L131.3,477.8 L134.6,462.9 L136.8,476 L138.8,486 L142.9,454.7 L145.5,472 L147.8,489.4 L151.1,512.5 L157.7,522.4 L164.4,519.1 L174.3,509.2 L187.5,499.3 L202.3,489.4 L218.8,479.4 L230,473.5 L246.5,468.5 L263,464.4 L279.5,461 L296,457.8 L312.6,455.5 L329,454 L345.6,452.2 L360,451 L367,450.4" fill="none" stroke="#3a96ff" stroke-width="10" stroke-dasharray="1.1 1.4" stroke-opacity="0.75"/>
<path d="M100,630.5 L103,630.3 L106.6,629.7 L109,627.5 L111.5,624.8 L114,619 L116.5,611.5 L118.2,605 L119.8,598.3 L122.2,585.1 L123.9,552.1 L124.4,515.8 L125.5,491 L127,470 L128,462.9 L129.6,470 L131.3,477.8 L134.6,462.9 L136.8,476 L138.8,486 L142.9,454.7 L145.5,472 L147.8,489.4 L151.1,512.5 L157.7,522.4 L164.4,519.1 L174.3,509.2 L187.5,499.3 L202.3,489.4 L218.8,479.4 L230,473.5 L246.5,468.5 L263,464.4 L279.5,461 L296,457.8 L312.6,455.5 L329,454 L345.6,452.2 L360,451 L367,450.4" fill="none" stroke="#1082ff" stroke-width="5" stroke-linejoin="round" stroke-linecap="round"/>
<path d="M123.9,548.1 l3.6,6.2 h-7.2 Z" fill="#1082ff"/>
<path d="M124.4,511.8 l3.6,6.2 h-7.2 Z" fill="#1082ff"/>
<path d="M125.5,487 l3.6,6.2 h-7.2 Z" fill="#1082ff"/>
<path d="M127,466 l3.6,6.2 h-7.2 Z" fill="#1082ff"/>
<path d="M131.3,473.8 l3.6,6.2 h-7.2 Z" fill="#1082ff"/>
<path d="M136.8,472 l3.6,6.2 h-7.2 Z" fill="#1082ff"/>
<path d="M142.9,450.7 l3.6,6.2 h-7.2 Z" fill="#1082ff"/>
<path d="M145.5,468 l3.6,6.2 h-7.2 Z" fill="#1082ff"/>
<path d="M147.8,485.4 l3.6,6.2 h-7.2 Z" fill="#1082ff"/>
<path d="M122.2,581.1 l3.6,6.2 h-7.2 Z" fill="#1082ff"/>
</g>
<text x="94.7" y="638" text-anchor="end" font-size="15.8">0.0</text>
<text x="94.7" y="561.1" text-anchor="end" font-size="15.8">0.5</text>
<text x="94.7" y="484.2" text-anchor="end" font-size="15.8">1.0</text>
<text x="94.7" y="407.3" text-anchor="end" font-size="15.8">1.5</text>
<text x="167.2" y="653.2" text-anchor="middle" font-size="15.8">12</text>
<text x="233.7" y="653.2" text-anchor="middle" font-size="15.8">24</text>
<text x="300.1" y="653.2" text-anchor="middle" font-size="15.8">36</text>
<text x="366.6" y="653.2" text-anchor="middle" font-size="15.8">48</text>
<text x="239" y="674.6" text-anchor="middle" font-size="17.7">Time (h)</text>
<text transform="translate(63.4,499.5) rotate(-90)" text-anchor="middle" font-size="18">OD<tspan font-size="14.2" dy="5.6">600</tspan></text>
<text x="238.5" y="392" text-anchor="middle" font-size="17.4">P<tspan font-style="italic" font-size="13.5" dy="5.6">atxA</tspan><tspan font-style="italic" dy="-5.6">-lux</tspan> growth</text>
<path d="M500,395.3 V624.9 H776" fill="none" stroke="#111111" stroke-width="1.55"/>
<path d="M494.7,624.9 H500 M494.7,548.6 H500 M494.7,472.3 H500 M494.7,396 H500 M566.4,624.9 V630.2 M632.7,624.9 V630.2 M698.9,624.9 V630.2 M765.2,624.9 V630.2 " stroke="#111111" stroke-width="1.55" fill="none"/>
<g>
<path d="M500.8,615.5 L503.5,612.5 L506.6,608.9 L509,602.5 L511.5,595.7 L514,593.2 L517,596.8 L519.8,599 L524.7,600.6 L525.5,608.9 L529.7,609.2 L541.2,606.2 L549.5,606.2 L557.7,602.1 L564,599.3 L569.3,597.2 L577,595.3 L585.8,593.9 L602.3,593 L627.1,592.9 L653,592.8 L670,589.7 L686,587 L698,584.7 L710.8,582.5 L727.3,578.9 L743.8,572.8 L762,563.8 L763.5,612 L763.5,612 L762,596.8 L743.8,598.8 L727.3,600.9 L710.8,600.5 L698,599.7 L686,599.5 L670,599.7 L653,599.8 L627.1,598.9 L602.3,597 L585.8,597.9 L577,599.3 L569.3,601.2 L564,603.3 L557.7,606.1 L549.5,610.2 L541.2,610.2 L529.7,612.2 L525.5,610.9 L524.7,602.6 L519.8,601 L517,598.8 L514,595.2 L511.5,597.7 L509,604.5 L506.6,610.9 L503.5,614.5 L500.8,617.5 Z" fill="url(#pinkv)" stroke="#ffa8a8" stroke-width="1" stroke-opacity="0.9"/>
<path d="M763.3,579.8 V615.3 M760.8,579.8 h5 M760.8,615.3 h5" stroke="#ffa8a8" stroke-width="0.9" fill="none"/>
<path d="M500.8,616.5 L503.5,613.5 L506.6,609.9 L509,603.5 L511.5,596.7 L514,594.2 L517,597.8 L519.8,600 L524.7,601.6 L525.5,609.9 L529.7,610.7 L541.2,608.2 L549.5,608.2 L557.7,604.1 L564,601.3 L569.3,599.2 L577,597.3 L585.8,595.9 L602.3,595 L627.1,595.9 L653,596.3 L670,594.7 L686,593 L698,591.7 L710.8,590.5 L727.3,588.9 L743.8,584.8 L762,579.8 L763.5,612" fill="none" stroke="#ff6868" stroke-width="5" stroke-linejoin="round" stroke-linecap="round"/>
<path d="M500.8,610.8 L502.8,601 L504.9,592.3 L507.5,588 L509.9,585.7 L512.3,578 L514.8,570.9 L517.3,561.5 L519.8,552.4 L523.1,540.1 L525.5,555.3 L527.2,588.4 L528,600.3 L530.5,572.9 L533.4,559.5 L536.3,547.1 L541.2,521.3 L546.2,498.9 L552.8,478 L561,468.4 L569.3,466.6 L580.9,467.9 L590.8,460.7 L600.7,449.8 L610.6,439.8 L618.8,445 L629.9,459 L639.8,482 L649.7,513.4 L659.6,537.5 L669.5,555.1 L679.4,569 L689.4,578.6 L699.3,585.5 L712.5,592.5 L725.7,598.6 L738.9,601.9 L752.1,604.6 L763.7,605.4 L763.7,605.4 L752.1,604.6 L738.9,603.9 L725.7,600.6 L712.5,596.5 L699.3,592.5 L689.4,588.6 L679.4,583 L669.5,575.1 L659.6,566.5 L649.7,553.4 L639.8,536 L629.9,520 L618.8,505 L610.6,502.8 L600.7,501.8 L590.8,500.7 L580.9,495.9 L569.3,490.6 L561,490.4 L552.8,494 L546.2,512.9 L541.2,533.3 L536.3,557.1 L533.4,569.5 L530.5,580.9 L528,606.3 L527.2,598.4 L525.5,575.3 L523.1,564.1 L519.8,568.4 L517.3,575.5 L514.8,582.9 L512.3,590 L509.9,597.7 L507.5,600 L504.9,604.3 L502.8,611 L500.8,618.8 Z" fill="#1a86ff" fill-opacity="0.8"/>
<path d="M500.8,614.8 L502.8,606 L504.9,598.3 L507.5,594 L509.9,591.7 L512.3,584 L514.8,576.9 L517.3,568.5 L519.8,560.4 L523.1,552.1 L525.5,565.3 L527.2,593.4 L528,603.3 L530.5,576.9 L533.4,564.5 L536.3,552.1 L541.2,527.3 L546.2,505.9 L552.8,486 L561,479.4 L569.3,478.6 L580.9,481.9 L590.8,482.7 L600.7,477.8 L610.6,472.8 L618.8,478 L629.9,493 L639.8,514 L649.7,539.4 L659.6,557.5 L669.5,569.1 L679.4,579 L689.4,585.6 L699.3,590.5 L712.5,595.5 L725.7,599.6 L738.9,602.9 L752.1,604.6 L763.7,605.4" fill="none" stroke="#3a96ff" stroke-width="12" stroke-dasharray="1.1 1.4" stroke-opacity="0.75"/>
<path d="M500.8,614.8 L502.8,606 L504.9,598.3 L507.5,594 L509.9,591.7 L512.3,584 L514.8,576.9 L517.3,568.5 L519.8,560.4 L523.1,552.1 L525.5,565.3 L527.2,593.4 L528,603.3 L530.5,576.9 L533.4,564.5 L536.3,552.1 L541.2,527.3 L546.2,505.9 L552.8,486 L561,479.4 L569.3,478.6 L580.9,481.9 L590.8,482.7 L600.7,477.8 L610.6,472.8 L618.8,478 L629.9,493 L639.8,514 L649.7,539.4 L659.6,557.5 L669.5,569.1 L679.4,579 L689.4,585.6 L699.3,590.5 L712.5,595.5 L725.7,599.6 L738.9,602.9 L752.1,604.6 L763.7,605.4" fill="none" stroke="#1082ff" stroke-width="7" stroke-linejoin="round" stroke-linecap="round"/>
<path d="M500.8,610.8 l3.6,6.2 h-7.2 Z" fill="#1082ff"/>
<path d="M528,599.3 l3.6,6.2 h-7.2 Z" fill="#1082ff"/>
<path d="M527.2,589.4 l3.6,6.2 h-7.2 Z" fill="#1082ff"/>
<path d="M763.7,601.4 l3.6,6.2 h-7.2 Z" fill="#1082ff"/>
</g>
<text x="494.2" y="630.5" text-anchor="end" font-size="15.8">0</text>
<text x="494.2" y="554.2" text-anchor="end" font-size="15.8">1000</text>
<text x="494.2" y="477.9" text-anchor="end" font-size="15.8">2000</text>
<text x="494.2" y="401.6" text-anchor="end" font-size="15.8">3000</text>
<text x="566.4" y="645.7" text-anchor="middle" font-size="15.8">12</text>
<text x="632.7" y="645.7" text-anchor="middle" font-size="15.8">24</text>
<text x="698.9" y="645.7" text-anchor="middle" font-size="15.8">36</text>
<text x="765.2" y="645.7" text-anchor="middle" font-size="15.8">48</text>
<text x="639" y="667.6" text-anchor="middle" font-size="17.7">Time (h)</text>
<text transform="translate(455,494.4) rotate(-90)" text-anchor="middle" font-size="18">RLU</text>
<text x="637.9" y="385.1" text-anchor="middle" font-size="17.4">P<tspan font-style="italic" font-size="13.5" dy="5.6">atxA</tspan><tspan font-style="italic" dy="-5.6">-lux</tspan> expression</text>
<path d="M101.5,741 V972 H376.5" fill="none" stroke="#111111" stroke-width="1.55"/>
<path d="M96.2,972 H101.5 M96.2,895.2 H101.5 M96.2,818.5 H101.5 M96.2,741.7 H101.5 M168,972 V977.3 M234.5,972 V977.3 M300.9,972 V977.3 M367.4,972 V977.3 " stroke="#111111" stroke-width="1.55" fill="none"/>
<g>
<path d="M101.6,969.8 L106,963 L111.5,952.8 L117,943 L123.1,931.6 L126.5,919 L129.7,906.5 L136.3,889 L144.5,871.5 L150,862 L157.7,854 L164,847 L171,840.7 L179,834 L187.5,827.5 L197,820 L207.3,812.7 L217,808 L227.1,804.4 L232,802.8 L236,805 L239.9,806 L242,815 L244,802 L246.5,830 L248.5,816 L250.5,831 L252.5,811 L256.4,821.5 L263,821.5 L270,823 L279.5,824.8 L288,825.8 L296,826.4 L304,825.5 L312.6,824 L319,822 L325.8,818.8 L331,817 L337.3,814.5 L341,811 L345.6,811.9 L350,809 L355.5,811.2 L360,807 L363,809 L367,806.9 L367,838.9 L363,841 L360,837 L355.5,841.2 L350,839 L345.6,843.9 L341,841 L337.3,844.5 L331,845 L325.8,846.8 L319,848 L312.6,850 L304,851.5 L296,852.4 L288,851.8 L279.5,850.8 L270,849 L263,847.5 L256.4,847.5 L252.5,839 L250.5,861 L248.5,844 L246.5,860 L244,828 L242,841 L239.9,830 L236,831 L232,826.8 L227.1,828.4 L217,832 L207.3,836.7 L197,844 L187.5,851.5 L179,858 L171,864.7 L164,871 L157.7,878 L150,886 L144.5,893.5 L136.3,909 L129.7,924.5 L126.5,935 L123.1,945.6 L117,953 L111.5,960.8 L106,967 L101.6,971.8 Z" fill="url(#pinkv)" stroke="#ffa8a8" stroke-width="1" stroke-opacity="0.9"/>
<path d="M246.5,795 V860 M244,795 h5 M244,860 h5" stroke="#ffa8a8" stroke-width="0.9" fill="none"/>
<path d="M252,790 V862 M249.5,790 h5 M249.5,862 h5" stroke="#ffa8a8" stroke-width="0.9" fill="none"/>
<path d="M239,800 V835 M236.5,800 h5 M236.5,835 h5" stroke="#ffa8a8" stroke-width="0.9" fill="none"/>
<path d="M260,808 V860 M257.5,808 h5 M257.5,860 h5" stroke="#ffa8a8" stroke-width="0.9" fill="none"/>
<path d="M264,808 V862 M261.5,808 h5 M261.5,862 h5" stroke="#ffa8a8" stroke-width="0.9" fill="none"/>
<path d="M101.6,970.8 L106,965 L111.5,956.8 L117,948 L123.1,938.6 L126.5,927 L129.7,915.5 L136.3,899 L144.5,882.5 L150,874 L157.7,866 L164,859 L171,852.7 L179,846 L187.5,839.5 L197,832 L207.3,824.7 L217,820 L227.1,816.4 L232,814.8 L236,818 L239.9,818 L242,828 L244,815 L246.5,845 L248.5,830 L250.5,846 L252.5,825 L256.4,834.5 L263,834.5 L270,836 L279.5,837.8 L288,838.8 L296,839.4 L304,838.5 L312.6,837 L319,835 L325.8,832.8 L331,831 L337.3,829.5 L341,826 L345.6,827.9 L350,824 L355.5,826.2 L360,822 L363,825 L367,822.9" fill="none" stroke="#ff6868" stroke-width="4.5" stroke-linejoin="round" stroke-linecap="round"/>
<path d="M101.6,971.6 C102.7,971.5 106,972.7 108.2,970.8 C110.4,968.9 112.9,963.8 114.8,960.1 C116.7,956.4 118.4,952.6 119.8,948.5 C121.2,944.4 122,940 123.1,935.3 C124.2,930.6 125.3,925.5 126.4,920.5 C127.5,915.5 128.3,910.3 129.7,905.6 C131.1,900.9 132.7,896.5 134.6,892.4 C136.5,888.3 138.7,884.6 141.2,880.8 C143.7,876.9 146.2,873.1 149.5,869.3 C152.8,865.4 156.9,861.3 161,857.7 C165.1,854.1 169.9,851.1 174.3,847.8 C178.7,844.5 182.8,840.9 187.5,837.9 C192.2,834.9 197.1,832.2 202.3,829.6 C207.5,827 214.2,823.6 218.8,822.2 C223.4,820.8 225.4,820.3 230,821 C234.6,821.7 241,824.6 246.5,826.2 C252,827.8 257.5,829.1 263,830.4 C268.5,831.6 274,832.8 279.5,833.7 C285,834.7 290.5,835 296,836.1 C301.5,837.2 307.6,838.8 312.6,840.3 C317.6,841.8 322,843.1 325.8,845.2 C329.6,847.3 332.4,850.4 335.7,852.7 C339,855.1 342.3,858.1 345.6,859.3 C348.9,860.5 351.9,860.2 355.5,860.1 C359.1,860 365.1,858.7 367,858.4" fill="none" stroke="#3a96ff" stroke-width="11" stroke-dasharray="1.1 1.4" stroke-opacity="0.75"/>
<path d="M101.6,971.6 C102.7,971.5 106,972.7 108.2,970.8 C110.4,968.9 112.9,963.8 114.8,960.1 C116.7,956.4 118.4,952.6 119.8,948.5 C121.2,944.4 122,940 123.1,935.3 C124.2,930.6 125.3,925.5 126.4,920.5 C127.5,915.5 128.3,910.3 129.7,905.6 C131.1,900.9 132.7,896.5 134.6,892.4 C136.5,888.3 138.7,884.6 141.2,880.8 C143.7,876.9 146.2,873.1 149.5,869.3 C152.8,865.4 156.9,861.3 161,857.7 C165.1,854.1 169.9,851.1 174.3,847.8 C178.7,844.5 182.8,840.9 187.5,837.9 C192.2,834.9 197.1,832.2 202.3,829.6 C207.5,827 214.2,823.6 218.8,822.2 C223.4,820.8 225.4,820.3 230,821 C234.6,821.7 241,824.6 246.5,826.2 C252,827.8 257.5,829.1 263,830.4 C268.5,831.6 274,832.8 279.5,833.7 C285,834.7 290.5,835 296,836.1 C301.5,837.2 307.6,838.8 312.6,840.3 C317.6,841.8 322,843.1 325.8,845.2 C329.6,847.3 332.4,850.4 335.7,852.7 C339,855.1 342.3,858.1 345.6,859.3 C348.9,860.5 351.9,860.2 355.5,860.1 C359.1,860 365.1,858.7 367,858.4" fill="none" stroke="#1082ff" stroke-width="6" stroke-linejoin="round" stroke-linecap="round"/>
<path d="M335.7,852 V842" stroke="#1082ff" stroke-width="1.2"/>
<path d="M335.7,839 l3.6,6.2 h-7.2 Z" fill="#1082ff"/>
<path d="M347.2,859 V844.4" stroke="#1082ff" stroke-width="1.2"/>
<path d="M347.2,841.4 l3.6,6.2 h-7.2 Z" fill="#1082ff"/>
<path d="M350.5,859 V849" stroke="#1082ff" stroke-width="1.2"/>
<path d="M350.5,846 l3.6,6.2 h-7.2 Z" fill="#1082ff"/>
<path d="M358.8,860 V837.8" stroke="#1082ff" stroke-width="1.2"/>
<path d="M358.8,834.8 l3.6,6.2 h-7.2 Z" fill="#1082ff"/>
<path d="M356,860 V850" stroke="#1082ff" stroke-width="1.2"/>
<path d="M356,847 l3.6,6.2 h-7.2 Z" fill="#1082ff"/>
<path d="M367,858 V852.7" stroke="#1082ff" stroke-width="1.2"/>
<path d="M367,849.7 l3.6,6.2 h-7.2 Z" fill="#1082ff"/>
<path d="M361.5,859 V853" stroke="#1082ff" stroke-width="1.2"/>
<path d="M361.5,850 l3.6,6.2 h-7.2 Z" fill="#1082ff"/>
</g>
<text x="95.7" y="977.6" text-anchor="end" font-size="15.8">0.0</text>
<text x="95.7" y="900.8" text-anchor="end" font-size="15.8">0.5</text>
<text x="95.7" y="824.1" text-anchor="end" font-size="15.8">1.0</text>
<text x="95.7" y="747.3" text-anchor="end" font-size="15.8">1.5</text>
<text x="168" y="992.8" text-anchor="middle" font-size="15.8">12</text>
<text x="234.5" y="992.8" text-anchor="middle" font-size="15.8">24</text>
<text x="300.9" y="992.8" text-anchor="middle" font-size="15.8">36</text>
<text x="367.4" y="992.8" text-anchor="middle" font-size="15.8">48</text>
<text x="240" y="1014.8" text-anchor="middle" font-size="17.7">Time (h)</text>
<text transform="translate(63.9,841) rotate(-90)" text-anchor="middle" font-size="18">OD<tspan font-size="14.2" dy="5.6">600</tspan></text>
<text x="239.3" y="730.9" text-anchor="middle" font-size="17.4">P<tspan font-style="italic" font-size="13.5" dy="5.6">lef</tspan><tspan font-style="italic" dy="-5.6">-lux</tspan> growth</text>
<path d="M497.6,740.9 V966.8 H769.4" fill="none" stroke="#111111" stroke-width="1.55"/>
<path d="M492.3,966.8 H497.6 M492.3,910.5 H497.6 M492.3,854.2 H497.6 M492.3,797.9 H497.6 M492.3,741.6 H497.6 M563.4,966.8 V972.1 M628.3,966.8 V972.1 M693.3,966.8 V972.1 M758.2,966.8 V972.1 " stroke="#111111" stroke-width="1.55" fill="none"/>
<g>
<path d="M498.3,966.6 C502.7,966.7 518.4,968 524.7,967.4 C531,966.8 532.2,964.9 536.3,963.3 C540.4,961.6 544.8,959.3 549.5,957.5 C554.2,955.7 559.7,954.1 564.4,952.6 C569.1,951.1 573.8,949.8 577.6,948.4 C581.5,947 583.6,945.1 587.5,944.3 C591.4,943.5 597.1,944.3 600.7,943.5 C604.3,942.7 606.7,941.2 608.9,939.3 C611.1,937.4 612.5,935.2 613.9,931.9 C615.3,928.6 616.1,925.2 617.2,919.4 C618.3,913.6 619.2,905.2 620.5,896.9 C621.8,888.6 623.4,878.8 625,869.5 C626.6,860.2 628.2,851 629.9,841 C631.5,831 633.5,816.5 634.9,809.6 C636.3,802.7 636.6,801.4 638.2,799.4 C639.9,797.4 643.3,799.1 644.8,797.7 C646.3,796.3 646.2,788.9 647.2,791.1 C648.2,793.3 649.2,803.1 650.5,811 C651.8,818.9 653.2,830.1 654.7,838.7 C656.2,847.4 658,854.9 659.6,862.9 C661.2,870.9 663,879.4 664.6,887 C666.2,894.6 667.6,901.6 669.5,908.4 C671.4,915.2 673.9,922.3 676.1,927.6 C678.3,932.9 679.9,936.2 682.7,940.2 C685.5,944.2 688.8,948.8 692.7,951.7 C696.6,954.6 701.5,956.1 705.9,957.5 C710.3,958.9 714.1,959.5 719.1,960 C724.1,960.5 729,960.8 735.6,960.8 C742.2,960.8 754.9,960.1 758.7,960 L758.7,960 C754.9,960.1 742.2,960.8 735.6,960.8 C729,960.8 724.1,960.5 719.1,960 C714.1,959.5 710.3,958.9 705.9,957.5 C701.5,956.1 696.6,954.6 692.7,951.7 C688.8,948.8 685.5,943.9 682.7,940.2 C679.9,936.5 678.3,934.2 676.1,929.6 C673.9,925 671.4,918.8 669.5,912.4 C667.6,906 666.2,898.2 664.6,891 C663,883.8 661.2,876.3 659.6,868.9 C658,861.5 656.2,854 654.7,846.7 C653.2,839.4 651.8,830.3 650.5,825 C649.2,819.7 648.2,815.6 647.2,815.1 C646.2,814.6 646.3,820.3 644.8,821.7 C643.3,823.1 639.9,822.1 638.2,823.4 C636.6,824.7 636.3,825 634.9,829.6 C633.5,834.2 631.5,843.4 629.9,851 C628.2,858.6 626.6,867.2 625,875.5 C623.4,883.8 621.8,893.2 620.5,900.9 C619.2,908.5 618.3,916.2 617.2,921.4 C616.1,926.6 615.3,928.9 613.9,931.9 C612.5,934.9 611.1,937.4 608.9,939.3 C606.7,941.2 604.3,942.7 600.7,943.5 C597.1,944.3 591.4,943.5 587.5,944.3 C583.6,945.1 581.5,947 577.6,948.4 C573.8,949.8 569.1,951.1 564.4,952.6 C559.7,954.1 554.2,955.7 549.5,957.5 C544.8,959.3 540.4,961.6 536.3,963.3 C532.2,964.9 531,966.8 524.7,967.4 C518.4,968 502.7,966.7 498.3,966.6 Z" fill="url(#pinkv)" stroke="#ffa8a8" stroke-width="1" stroke-opacity="0.9"/>
<path d="M498.3,966.6 C502.7,966.7 518.4,968 524.7,967.4 C531,966.8 532.2,964.9 536.3,963.3 C540.4,961.6 544.8,959.3 549.5,957.5 C554.2,955.7 559.7,954.1 564.4,952.6 C569.1,951.1 573.8,949.8 577.6,948.4 C581.5,947 583.6,945.1 587.5,944.3 C591.4,943.5 597.1,944.3 600.7,943.5 C604.3,942.7 606.7,941.2 608.9,939.3 C611.1,937.4 612.5,935 613.9,931.9 C615.3,928.8 616.1,925.9 617.2,920.4 C618.3,914.9 619.2,906.9 620.5,898.9 C621.8,890.9 623.4,881.3 625,872.5 C626.6,863.7 628.2,854.8 629.9,846 C631.5,837.2 633.5,825.4 634.9,819.6 C636.3,813.8 636.6,813 638.2,811.4 C639.9,809.8 643.3,811.1 644.8,809.7 C646.3,808.3 646.2,801.7 647.2,803.1 C648.2,804.5 649.2,811.4 650.5,818 C651.8,824.6 653.2,834.7 654.7,842.7 C656.2,850.7 658,858.2 659.6,865.9 C661.2,873.6 663,881.6 664.6,889 C666.2,896.4 667.6,903.8 669.5,910.4 C671.4,917 673.9,923.6 676.1,928.6 C678.3,933.6 679.9,936.4 682.7,940.2 C685.5,944.1 688.8,948.8 692.7,951.7 C696.6,954.6 701.5,956.1 705.9,957.5 C710.3,958.9 714.1,959.5 719.1,960 C724.1,960.5 729,960.8 735.6,960.8 C742.2,960.8 754.9,960.1 758.7,960" fill="none" stroke="#ff6868" stroke-width="4.8" stroke-linejoin="round" stroke-linecap="round"/>
<path d="M498.3,966.6 C499.4,966.3 502.7,965.4 504.9,965 C507.1,964.6 509,964 511.5,964.1 C514,964.2 517.7,965.4 519.8,965.8 C521.9,966.2 522.5,967.3 523.9,966.6 C525.3,965.9 525.9,963.4 528,961.6 C530.1,959.8 533.5,958 536.3,955.7 C539,953.5 540.4,951.5 544.5,948.1 C548.6,944.7 556,939 561,935.5 C566,932 570.7,930.5 574.3,927.3 C577.9,924.1 579.8,919.3 582.5,916.4 C585.2,913.5 587.8,911.3 590.8,909.8 C593.8,908.3 597.4,907.6 600.7,907.3 C604,907 607.3,908.2 610.6,908.1 C613.9,908 617.3,907.8 620.5,906.4 C623.7,905 626.7,902.4 629.9,899.8 C633.1,897.2 636.8,894.2 639.8,890.6 C642.8,887 646,881.2 648.1,878 C650.2,874.8 650.6,870.9 652.2,871.4 C653.9,871.9 655.9,877.3 658,880.7 C660.1,884.1 662.1,886.9 664.6,891.6 C667.1,896.3 670,903.5 672.8,909.1 C675.5,914.7 678.3,920.3 681.1,925 C683.9,929.7 686.4,933.6 689.4,937.5 C692.4,941.4 695.7,945.5 699.3,948.4 C702.9,951.3 706.1,953.2 710.8,955 C715.5,956.8 721.8,958.1 727.3,959.2 C732.8,960.3 738.6,960.9 743.8,961.6 C749,962.3 756.2,963 758.7,963.3 L758.7,963.3 C756.2,963 749,962.3 743.8,961.6 C738.6,960.9 732.8,960.3 727.3,959.2 C721.8,958.1 715.5,956.8 710.8,955 C706.1,953.2 702.9,951 699.3,948.4 C695.7,945.8 692.4,942.7 689.4,939.5 C686.4,936.3 683.9,933.1 681.1,929 C678.3,924.9 675.5,920 672.8,915.1 C670,910.2 667.1,903.7 664.6,899.6 C662.1,895.5 660.1,893.4 658,890.7 C655.9,888 653.9,883.5 652.2,883.4 C650.6,883.3 650.2,887.1 648.1,890 C646,892.9 642.8,897.6 639.8,900.6 C636.8,903.6 633.1,905.5 629.9,907.8 C626.7,910.1 623.7,913 620.5,914.4 C617.3,915.8 613.9,916 610.6,916.1 C607.3,916.2 604,915 600.7,915.3 C597.4,915.6 593.8,916.3 590.8,917.8 C587.8,919.3 585.2,921.8 582.5,924.4 C579.8,927 577.9,930.4 574.3,933.3 C570.7,936.1 566,938.4 561,941.5 C556,944.6 548.6,949.4 544.5,952.1 C540.4,954.8 539,956.1 536.3,957.7 C533.5,959.3 530.1,960.1 528,961.6 C525.9,963.1 525.3,965.9 523.9,966.6 C522.5,967.3 521.9,966.2 519.8,965.8 C517.7,965.4 514,964.2 511.5,964.1 C509,964 507.1,964.6 504.9,965 C502.7,965.4 499.4,966.3 498.3,966.6 Z" fill="#1a86ff" fill-opacity="0.95"/>
<path d="M498.3,966.6 C499.4,966.3 502.7,965.4 504.9,965 C507.1,964.6 509,964 511.5,964.1 C514,964.2 517.7,965.4 519.8,965.8 C521.9,966.2 522.5,967.3 523.9,966.6 C525.3,965.9 525.9,963.2 528,961.6 C530.1,960 533.5,958.6 536.3,956.7 C539,954.8 540.4,953.1 544.5,950.1 C548.6,947.1 556,941.8 561,938.5 C566,935.2 570.7,933.3 574.3,930.3 C577.9,927.3 579.8,923.1 582.5,920.4 C585.2,917.6 587.8,915.3 590.8,913.8 C593.8,912.3 597.4,911.6 600.7,911.3 C604,911 607.3,912.2 610.6,912.1 C613.9,912 617.3,911.8 620.5,910.4 C623.7,909 626.7,906.3 629.9,903.8 C633.1,901.3 636.8,898.9 639.8,895.6 C642.8,892.3 646,887 648.1,884 C650.2,881 650.6,877.1 652.2,877.4 C653.9,877.7 655.9,882.7 658,885.7 C660.1,888.7 662.1,891.2 664.6,895.6 C667.1,900 670,906.9 672.8,912.1 C675.5,917.3 678.3,922.6 681.1,927 C683.9,931.4 686.4,934.9 689.4,938.5 C692.4,942.1 695.7,945.6 699.3,948.4 C702.9,951.1 706.1,953.2 710.8,955 C715.5,956.8 721.8,958.1 727.3,959.2 C732.8,960.3 738.6,960.9 743.8,961.6 C749,962.3 756.2,963 758.7,963.3" fill="none" stroke="#3a96ff" stroke-width="13" stroke-dasharray="1.1 1.4" stroke-opacity="0.75"/>
<path d="M498.3,966.6 C499.4,966.3 502.7,965.4 504.9,965 C507.1,964.6 509,964 511.5,964.1 C514,964.2 517.7,965.4 519.8,965.8 C521.9,966.2 522.5,967.3 523.9,966.6 C525.3,965.9 525.9,963.2 528,961.6 C530.1,960 533.5,958.6 536.3,956.7 C539,954.8 540.4,953.1 544.5,950.1 C548.6,947.1 556,941.8 561,938.5 C566,935.2 570.7,933.3 574.3,930.3 C577.9,927.3 579.8,923.1 582.5,920.4 C585.2,917.6 587.8,915.3 590.8,913.8 C593.8,912.3 597.4,911.6 600.7,911.3 C604,911 607.3,912.2 610.6,912.1 C613.9,912 617.3,911.8 620.5,910.4 C623.7,909 626.7,906.3 629.9,903.8 C633.1,901.3 636.8,898.9 639.8,895.6 C642.8,892.3 646,887 648.1,884 C650.2,881 650.6,877.1 652.2,877.4 C653.9,877.7 655.9,882.7 658,885.7 C660.1,888.7 662.1,891.2 664.6,895.6 C667.1,900 670,906.9 672.8,912.1 C675.5,917.3 678.3,922.6 681.1,927 C683.9,931.4 686.4,934.9 689.4,938.5 C692.4,942.1 695.7,945.6 699.3,948.4 C702.9,951.1 706.1,953.2 710.8,955 C715.5,956.8 721.8,958.1 727.3,959.2 C732.8,960.3 738.6,960.9 743.8,961.6 C749,962.3 756.2,963 758.7,963.3" fill="none" stroke="#1082ff" stroke-width="8" stroke-linejoin="round" stroke-linecap="round"/>
</g>
<text x="491.8" y="972.4" text-anchor="end" font-size="15.8">0</text>
<text x="491.8" y="916.1" text-anchor="end" font-size="15.8">200</text>
<text x="491.8" y="859.8" text-anchor="end" font-size="15.8">400</text>
<text x="491.8" y="803.5" text-anchor="end" font-size="15.8">600</text>
<text x="491.8" y="747.2" text-anchor="end" font-size="15.8">800</text>
<text x="563.4" y="987.6" text-anchor="middle" font-size="15.8">12</text>
<text x="628.3" y="987.6" text-anchor="middle" font-size="15.8">24</text>
<text x="693.3" y="987.6" text-anchor="middle" font-size="15.8">36</text>
<text x="758.2" y="987.6" text-anchor="middle" font-size="15.8">48</text>
<text x="634.3" y="1009.1" text-anchor="middle" font-size="17.7">Time (h)</text>
<text transform="translate(461.6,839.4) rotate(-90)" text-anchor="middle" font-size="18">RLU</text>
<text x="633.7" y="730.8" text-anchor="middle" font-size="17.4">P<tspan font-style="italic" font-size="13.5" dy="5.6">lef</tspan><tspan font-style="italic" dy="-5.6">-lux</tspan> expression</text>
<path d="M101,1090.2 V1321.2 H376.5" fill="none" stroke="#111111" stroke-width="1.55"/>
<path d="M95.7,1321.2 H101 M95.7,1244.4 H101 M95.7,1167.7 H101 M95.7,1090.9 H101 M168,1321.2 V1326.5 M234.5,1321.2 V1326.5 M300.9,1321.2 V1326.5 M367.4,1321.2 V1326.5 " stroke="#111111" stroke-width="1.55" fill="none"/>
<g>
<path d="M100,1319.5 L111.5,1318.5 L117,1314 L122,1305 L125.5,1293 L128.5,1280 L133.5,1266 L141.5,1251 L150,1237.5 L161.5,1222.5 L175,1211 L191,1199.5 L208,1190.5 L224,1184 L230,1185 L235.4,1185.5 L246.5,1184 L253.1,1185.7 L257.2,1195.6 L263,1197.3 L279.5,1198.1 L299.4,1198.1 L312.6,1194.6 L319.2,1187.4 L322,1172 L325,1166.5 L328,1182 L332.4,1151.7 L335.7,1183 L340.6,1166.5 L345.6,1189.7 L348.9,1156.6 L352.2,1143.4 L355,1162 L357.1,1133.5 L359,1147 L361.3,1129.4 L363.8,1158.3 L366,1147 L367,1174.8 L367,1180.8 L366,1153 L363.8,1164.3 L361.3,1135.4 L359,1153 L357.1,1139.5 L355,1168 L352.2,1149.4 L348.9,1162.6 L345.6,1195.7 L340.6,1172.5 L335.7,1189 L332.4,1157.7 L328,1188 L325,1172.5 L322,1178 L319.2,1191.4 L312.6,1200.6 L299.4,1202.1 L279.5,1202.1 L263,1201.3 L257.2,1199.6 L253.1,1189.7 L246.5,1188 L235.4,1189.5 L230,1187 L224,1184 L208,1190.5 L191,1199.5 L175,1211 L161.5,1222.5 L150,1237.5 L141.5,1251 L133.5,1266 L128.5,1280 L125.5,1293 L122,1305 L117,1314 L111.5,1318.5 L100,1319.5 Z" fill="url(#pinkv)" stroke="#ffa8a8" stroke-width="1" stroke-opacity="0.9"/>
<path d="M325,1149 V1190 M322.5,1149 h5 M322.5,1190 h5" stroke="#ffa8a8" stroke-width="0.9" fill="none"/>
<path d="M329,1160 V1195 M326.5,1160 h5 M326.5,1195 h5" stroke="#ffa8a8" stroke-width="0.9" fill="none"/>
<path d="M332.4,1141 V1172 M329.9,1141 h5 M329.9,1172 h5" stroke="#ffa8a8" stroke-width="0.9" fill="none"/>
<path d="M336,1168 V1200 M333.5,1168 h5 M333.5,1200 h5" stroke="#ffa8a8" stroke-width="0.9" fill="none"/>
<path d="M340.6,1151 V1188 M338.1,1151 h5 M338.1,1188 h5" stroke="#ffa8a8" stroke-width="0.9" fill="none"/>
<path d="M344,1170 V1205 M341.5,1170 h5 M341.5,1205 h5" stroke="#ffa8a8" stroke-width="0.9" fill="none"/>
<path d="M348.9,1143 V1180 M346.4,1143 h5 M346.4,1180 h5" stroke="#ffa8a8" stroke-width="0.9" fill="none"/>
<path d="M352.2,1133 V1165 M349.7,1133 h5 M349.7,1165 h5" stroke="#ffa8a8" stroke-width="0.9" fill="none"/>
<path d="M357.1,1123 V1150 M354.6,1123 h5 M354.6,1150 h5" stroke="#ffa8a8" stroke-width="0.9" fill="none"/>
<path d="M361.3,1123 V1150 M358.8,1123 h5 M358.8,1150 h5" stroke="#ffa8a8" stroke-width="0.9" fill="none"/>
<path d="M363.8,1140 V1180 M361.3,1140 h5 M361.3,1180 h5" stroke="#ffa8a8" stroke-width="0.9" fill="none"/>
<path d="M366,1135 V1170 M363.5,1135 h5 M363.5,1170 h5" stroke="#ffa8a8" stroke-width="0.9" fill="none"/>
<path d="M367,1165 V1190 M364.5,1165 h5 M364.5,1190 h5" stroke="#ffa8a8" stroke-width="0.9" fill="none"/>
<path d="M100,1319.5 L111.5,1318.5 L117,1314 L122,1305 L125.5,1293 L128.5,1280 L133.5,1266 L141.5,1251 L150,1237.5 L161.5,1222.5 L175,1211 L191,1199.5 L208,1190.5 L224,1184 L230,1186 L235.4,1187.5 L246.5,1186 L253.1,1187.7 L257.2,1197.6 L263,1199.3 L279.5,1200.1 L299.4,1200.1 L312.6,1197.6 L319.2,1189.4 L322,1175 L325,1169.5 L328,1185 L332.4,1154.7 L335.7,1186 L340.6,1169.5 L345.6,1192.7 L348.9,1159.6 L352.2,1146.4 L355,1165 L357.1,1136.5 L359,1150 L361.3,1132.4 L363.8,1161.3 L366,1150 L367,1177.8" fill="none" stroke="#ff6868" stroke-width="4.5" stroke-linejoin="round" stroke-linecap="round"/>
<path d="M100,1319.9 C101.9,1319.9 108.2,1320.5 111.5,1319.9 C114.8,1319.4 117.6,1318.5 119.8,1316.6 C122,1314.7 123.3,1311.9 124.7,1308.3 C126.1,1304.7 126.9,1299.5 128,1295.1 C129.1,1290.7 129.9,1286.3 131.3,1281.9 C132.7,1277.5 134.1,1273.4 136.3,1268.7 C138.5,1264 141.8,1258.5 144.5,1253.8 C147.2,1249.1 149.5,1245.3 152.8,1240.6 C156.1,1235.9 160.3,1230.2 164.4,1225.8 C168.5,1221.4 172.7,1218 177.6,1214.2 C182.5,1210.4 188.6,1206.4 194.1,1202.7 C199.6,1199 205.1,1195.1 210.6,1191.9 C216.1,1188.7 221.6,1185.7 227.1,1183.7 C232.6,1181.7 237.6,1180.2 243.6,1180 C249.6,1179.8 257,1181.8 263,1182.6 C269,1183.4 274,1184 279.5,1185 C285,1186 290.5,1186.7 296,1188.4 C301.5,1190.1 307.6,1192.7 312.6,1195 C317.6,1197.3 321.7,1199.8 325.8,1202.2 C329.9,1204.6 334,1207.2 337.3,1209.5 C340.6,1211.8 342.6,1215.3 345.6,1216.1 C348.6,1216.9 351.9,1214.4 355.5,1214.4 C359.1,1214.4 365.1,1215.8 367,1216.1 L367,1222.1 C365.1,1221.8 359.1,1220.4 355.5,1220.4 C351.9,1220.4 348.6,1222.9 345.6,1222.1 C342.6,1221.3 340.6,1218.2 337.3,1215.5 C334,1212.8 329.9,1209.3 325.8,1206.2 C321.7,1203.1 317.6,1199.6 312.6,1197 C307.6,1194.4 301.5,1192.1 296,1190.4 C290.5,1188.7 285,1188 279.5,1187 C274,1186 269,1185.4 263,1184.6 C257,1183.8 249.6,1182.2 243.6,1182 C237.6,1181.8 232.6,1182 227.1,1183.7 C221.6,1185.4 216.1,1188.7 210.6,1191.9 C205.1,1195.1 199.6,1199 194.1,1202.7 C188.6,1206.4 182.5,1210.4 177.6,1214.2 C172.7,1218 168.5,1221.4 164.4,1225.8 C160.3,1230.2 156.1,1235.9 152.8,1240.6 C149.5,1245.3 147.2,1249.1 144.5,1253.8 C141.8,1258.5 138.5,1264 136.3,1268.7 C134.1,1273.4 132.7,1277.5 131.3,1281.9 C129.9,1286.3 129.1,1290.7 128,1295.1 C126.9,1299.5 126.1,1304.7 124.7,1308.3 C123.3,1311.9 122,1314.7 119.8,1316.6 C117.6,1318.5 114.8,1319.4 111.5,1319.9 C108.2,1320.5 101.9,1319.9 100,1319.9 Z" fill="#1a86ff" fill-opacity="0.95"/>
<path d="M352,1160 V1225 M349,1160 h6 M349,1225 h6" stroke="#1082ff" stroke-width="1.3" fill="none"/>
<path d="M356,1148 V1224 M353,1148 h6 M353,1224 h6" stroke="#1082ff" stroke-width="1.3" fill="none"/>
<path d="M359.5,1170 V1224 M356.5,1170 h6 M356.5,1224 h6" stroke="#1082ff" stroke-width="1.3" fill="none"/>
<path d="M366,1175 V1222 M363,1175 h6 M363,1222 h6" stroke="#1082ff" stroke-width="1.3" fill="none"/>
<path d="M340,1200 V1222 M337,1200 h6 M337,1222 h6" stroke="#1082ff" stroke-width="1.3" fill="none"/>
<path d="M336,1205 V1218 M333,1205 h6 M333,1218 h6" stroke="#1082ff" stroke-width="1.3" fill="none"/>
<path d="M100,1319.9 C101.9,1319.9 108.2,1320.5 111.5,1319.9 C114.8,1319.4 117.6,1318.5 119.8,1316.6 C122,1314.7 123.3,1311.9 124.7,1308.3 C126.1,1304.7 126.9,1299.5 128,1295.1 C129.1,1290.7 129.9,1286.3 131.3,1281.9 C132.7,1277.5 134.1,1273.4 136.3,1268.7 C138.5,1264 141.8,1258.5 144.5,1253.8 C147.2,1249.1 149.5,1245.3 152.8,1240.6 C156.1,1235.9 160.3,1230.2 164.4,1225.8 C168.5,1221.4 172.7,1218 177.6,1214.2 C182.5,1210.4 188.6,1206.4 194.1,1202.7 C199.6,1199 205.1,1195.1 210.6,1191.9 C216.1,1188.7 221.6,1185.5 227.1,1183.7 C232.6,1181.9 237.6,1181 243.6,1181 C249.6,1181 257,1182.8 263,1183.6 C269,1184.4 274,1185 279.5,1186 C285,1187 290.5,1187.7 296,1189.4 C301.5,1191.1 307.6,1193.5 312.6,1196 C317.6,1198.5 321.7,1201.5 325.8,1204.2 C329.9,1207 334,1210 337.3,1212.5 C340.6,1215 342.6,1218.3 345.6,1219.1 C348.6,1219.9 351.9,1217.4 355.5,1217.4 C359.1,1217.4 365.1,1218.8 367,1219.1" fill="none" stroke="#3a96ff" stroke-width="10.5" stroke-dasharray="1.1 1.4" stroke-opacity="0.75"/>
<path d="M100,1319.9 C101.9,1319.9 108.2,1320.5 111.5,1319.9 C114.8,1319.4 117.6,1318.5 119.8,1316.6 C122,1314.7 123.3,1311.9 124.7,1308.3 C126.1,1304.7 126.9,1299.5 128,1295.1 C129.1,1290.7 129.9,1286.3 131.3,1281.9 C132.7,1277.5 134.1,1273.4 136.3,1268.7 C138.5,1264 141.8,1258.5 144.5,1253.8 C147.2,1249.1 149.5,1245.3 152.8,1240.6 C156.1,1235.9 160.3,1230.2 164.4,1225.8 C168.5,1221.4 172.7,1218 177.6,1214.2 C182.5,1210.4 188.6,1206.4 194.1,1202.7 C199.6,1199 205.1,1195.1 210.6,1191.9 C216.1,1188.7 221.6,1185.5 227.1,1183.7 C232.6,1181.9 237.6,1181 243.6,1181 C249.6,1181 257,1182.8 263,1183.6 C269,1184.4 274,1185 279.5,1186 C285,1187 290.5,1187.7 296,1189.4 C301.5,1191.1 307.6,1193.5 312.6,1196 C317.6,1198.5 321.7,1201.5 325.8,1204.2 C329.9,1207 334,1210 337.3,1212.5 C340.6,1215 342.6,1218.3 345.6,1219.1 C348.6,1219.9 351.9,1217.4 355.5,1217.4 C359.1,1217.4 365.1,1218.8 367,1219.1" fill="none" stroke="#1082ff" stroke-width="5.5" stroke-linejoin="round" stroke-linecap="round"/>
<path d="M343,1215 V1196" stroke="#1082ff" stroke-width="1.2"/>
<path d="M343,1193 l3.6,6.2 h-7.2 Z" fill="#1082ff"/>
<path d="M346,1219 V1182" stroke="#1082ff" stroke-width="1.2"/>
<path d="M346,1179 l3.6,6.2 h-7.2 Z" fill="#1082ff"/>
<path d="M349,1219 V1200" stroke="#1082ff" stroke-width="1.2"/>
<path d="M349,1197 l3.6,6.2 h-7.2 Z" fill="#1082ff"/>
<path d="M351,1219 V1172" stroke="#1082ff" stroke-width="1.2"/>
<path d="M351,1169 l3.6,6.2 h-7.2 Z" fill="#1082ff"/>
<path d="M354,1219 V1166" stroke="#1082ff" stroke-width="1.2"/>
<path d="M354,1163 l3.6,6.2 h-7.2 Z" fill="#1082ff"/>
<path d="M357.5,1218 V1158" stroke="#1082ff" stroke-width="1.2"/>
<path d="M357.5,1155 l3.6,6.2 h-7.2 Z" fill="#1082ff"/>
<path d="M360.5,1218 V1185" stroke="#1082ff" stroke-width="1.2"/>
<path d="M360.5,1182 l3.6,6.2 h-7.2 Z" fill="#1082ff"/>
<path d="M362.5,1218 V1168" stroke="#1082ff" stroke-width="1.2"/>
<path d="M362.5,1165 l3.6,6.2 h-7.2 Z" fill="#1082ff"/>
<path d="M364.5,1218 V1190" stroke="#1082ff" stroke-width="1.2"/>
<path d="M364.5,1187 l3.6,6.2 h-7.2 Z" fill="#1082ff"/>
<path d="M366.5,1219 V1178" stroke="#1082ff" stroke-width="1.2"/>
<path d="M366.5,1175 l3.6,6.2 h-7.2 Z" fill="#1082ff"/>
</g>
<text x="95.2" y="1326.8" text-anchor="end" font-size="15.8">0.0</text>
<text x="95.2" y="1250" text-anchor="end" font-size="15.8">0.5</text>
<text x="95.2" y="1173.3" text-anchor="end" font-size="15.8">1.0</text>
<text x="95.2" y="1096.5" text-anchor="end" font-size="15.8">1.5</text>
<text x="168" y="1342" text-anchor="middle" font-size="15.8">12</text>
<text x="234.5" y="1342" text-anchor="middle" font-size="15.8">24</text>
<text x="300.9" y="1342" text-anchor="middle" font-size="15.8">36</text>
<text x="367.4" y="1342" text-anchor="middle" font-size="15.8">48</text>
<text x="240" y="1363.7" text-anchor="middle" font-size="17.7">Time (h)</text>
<text transform="translate(63.9,1188.5) rotate(-90)" text-anchor="middle" font-size="18">OD<tspan font-size="14.2" dy="5.6">600</tspan></text>
<text x="239.1" y="1076.8" text-anchor="middle" font-size="17.4">P<tspan font-style="italic" font-size="13.5" dy="5.6">pagA</tspan><tspan font-style="italic" dy="-5.6">-lux</tspan> growth</text>
<path d="M499.8,1087.6 V1318.2 H776" fill="none" stroke="#111111" stroke-width="1.55"/>
<path d="M494.5,1318.2 H499.8 M494.5,1272.2 H499.8 M494.5,1226.2 H499.8 M494.5,1180.3 H499.8 M494.5,1134.3 H499.8 M494.5,1088.3 H499.8 M566.7,1318.2 V1323.5 M632.8,1318.2 V1323.5 M699,1318.2 V1323.5 M765.1,1318.2 V1323.5 " stroke="#111111" stroke-width="1.55" fill="none"/>
<g>
<path d="M499.1,1317.2 C503.9,1317.3 521.8,1318.2 528,1317.7 C534.2,1317.2 533.5,1314.9 536.3,1313.9 C539,1312.9 541.8,1312.6 544.5,1311.5 C547.2,1310.4 550,1308.7 552.8,1307.3 C555.5,1305.9 558.2,1304.4 561,1303.2 C563.8,1302 566.5,1301.3 569.3,1299.9 C572.1,1298.5 574.9,1296.7 577.6,1294.9 C580.4,1293.1 583,1290.9 585.8,1289.2 C588.5,1287.5 591.4,1285.7 594.1,1285 C596.9,1284.3 599.5,1284.6 602.3,1285 C605,1285.4 608.1,1287.5 610.6,1287.5 C613.1,1287.5 615,1287.1 617.2,1285 C619.4,1282.9 621.9,1279.5 623.8,1275.1 C625.7,1270.7 627.5,1263.5 628.8,1258.6 C630.1,1253.6 630.8,1250.9 631.6,1245.4 C632.4,1239.9 632.9,1232.8 633.7,1225.6 C634.5,1218.4 635.4,1213.7 636.5,1202.5 C637.6,1191.3 639.2,1171.4 640.6,1158.5 C642,1145.6 643.5,1132.5 644.8,1125.2 C646.1,1117.9 647.2,1114.9 648.4,1114.9 C649.6,1114.9 650.9,1117.9 652.2,1125.2 C653.5,1132.5 654.8,1146.7 656.3,1158.5 C657.8,1170.3 659.6,1184.2 661.3,1195.9 C662.9,1207.6 664.6,1219 666.2,1228.9 C667.9,1238.8 669.3,1247 671.2,1255.3 C673.1,1263.5 675.3,1271.8 677.8,1278.4 C680.3,1285 683,1290.8 686,1294.9 C689,1299 691.9,1301.1 696,1303.2 C700.1,1305.3 705.6,1306.1 710.8,1307.3 C716,1308.5 721.8,1309.8 727.3,1310.6 C732.8,1311.4 737.5,1311.6 743.8,1312.3 C750.1,1313 761.7,1314.4 765.3,1314.8 L765.3,1314.8 C761.7,1314.4 750.1,1313 743.8,1312.3 C737.5,1311.6 732.8,1311.4 727.3,1310.6 C721.8,1309.8 716,1308.5 710.8,1307.3 C705.6,1306.1 700.1,1305.3 696,1303.2 C691.9,1301.1 689,1299 686,1294.9 C683,1290.8 680.3,1285 677.8,1278.4 C675.3,1271.8 673.1,1263.5 671.2,1255.3 C669.3,1247 667.9,1238.8 666.2,1228.9 C664.6,1219 662.9,1207.3 661.3,1195.9 C659.6,1184.5 657.8,1171.3 656.3,1160.5 C654.8,1149.7 653.5,1137.1 652.2,1131.2 C650.9,1125.3 649.6,1124.9 648.4,1124.9 C647.2,1124.9 646.1,1125.3 644.8,1131.2 C643.5,1137.1 642,1148.6 640.6,1160.5 C639.2,1172.4 637.6,1191.7 636.5,1202.5 C635.4,1213.3 634.5,1218.4 633.7,1225.6 C632.9,1232.8 632.4,1239.9 631.6,1245.4 C630.8,1250.9 630.1,1253.6 628.8,1258.6 C627.5,1263.5 625.7,1270.7 623.8,1275.1 C621.9,1279.5 619.4,1282.9 617.2,1285 C615,1287.1 613.1,1287.5 610.6,1287.5 C608.1,1287.5 605,1285.4 602.3,1285 C599.5,1284.6 596.9,1284.3 594.1,1285 C591.4,1285.7 588.5,1287.5 585.8,1289.2 C583,1290.9 580.4,1293.1 577.6,1294.9 C574.9,1296.7 572.1,1298.5 569.3,1299.9 C566.5,1301.3 563.8,1302 561,1303.2 C558.2,1304.4 555.5,1305.9 552.8,1307.3 C550,1308.7 547.2,1310.4 544.5,1311.5 C541.8,1312.6 539,1312.9 536.3,1313.9 C533.5,1314.9 534.2,1317.2 528,1317.7 C521.8,1318.2 503.9,1317.3 499.1,1317.2 Z" fill="url(#pinkv)" stroke="#ffa8a8" stroke-width="1" stroke-opacity="0.9"/>
<path d="M499.1,1317.2 C503.9,1317.3 521.8,1318.2 528,1317.7 C534.2,1317.2 533.5,1314.9 536.3,1313.9 C539,1312.9 541.8,1312.6 544.5,1311.5 C547.2,1310.4 550,1308.7 552.8,1307.3 C555.5,1305.9 558.2,1304.4 561,1303.2 C563.8,1302 566.5,1301.3 569.3,1299.9 C572.1,1298.5 574.9,1296.7 577.6,1294.9 C580.4,1293.1 583,1290.9 585.8,1289.2 C588.5,1287.5 591.4,1285.7 594.1,1285 C596.9,1284.3 599.5,1284.6 602.3,1285 C605,1285.4 608.1,1287.5 610.6,1287.5 C613.1,1287.5 615,1287.1 617.2,1285 C619.4,1282.9 621.9,1279.5 623.8,1275.1 C625.7,1270.7 627.5,1263.5 628.8,1258.6 C630.1,1253.6 630.8,1250.9 631.6,1245.4 C632.4,1239.9 632.9,1232.8 633.7,1225.6 C634.5,1218.4 635.4,1213.5 636.5,1202.5 C637.6,1191.5 639.2,1171.9 640.6,1159.5 C642,1147.1 643.5,1134.8 644.8,1128.2 C646.1,1121.6 647.2,1119.9 648.4,1119.9 C649.6,1119.9 650.9,1121.6 652.2,1128.2 C653.5,1134.8 654.8,1148.2 656.3,1159.5 C657.8,1170.8 659.6,1184.3 661.3,1195.9 C662.9,1207.5 664.6,1219 666.2,1228.9 C667.9,1238.8 669.3,1247 671.2,1255.3 C673.1,1263.5 675.3,1271.8 677.8,1278.4 C680.3,1285 683,1290.8 686,1294.9 C689,1299 691.9,1301.1 696,1303.2 C700.1,1305.3 705.6,1306.1 710.8,1307.3 C716,1308.5 721.8,1309.8 727.3,1310.6 C732.8,1311.4 737.5,1311.6 743.8,1312.3 C750.1,1313 761.7,1314.4 765.3,1314.8" fill="none" stroke="#ff6868" stroke-width="5" stroke-linejoin="round" stroke-linecap="round"/>
<path d="M499.1,1316.4 C499.8,1316 501.8,1313.9 503.3,1313.9 C504.8,1313.9 505.4,1315.9 508.2,1316.4 C510.9,1317 516.5,1317.6 519.8,1317.2 C523.1,1316.8 525.2,1316.4 528,1313.8 C530.8,1311.2 533.5,1306.2 536.3,1301.8 C539,1297.4 541.8,1292.6 544.5,1287.6 C547.2,1282.6 550,1276.4 552.8,1271.8 C555.5,1267.2 558.2,1263.8 561,1260.2 C563.8,1256.6 566.5,1253 569.3,1250.3 C572.1,1247.5 574.9,1245.3 577.6,1243.7 C580.4,1242.1 583,1240.5 585.8,1240.4 C588.5,1240.3 591.4,1241.7 594.1,1243.1 C596.9,1244.5 599.5,1246.8 602.3,1249 C605,1251.2 607.9,1254.6 610.6,1256.6 C613.4,1258.5 616,1260.3 618.8,1260.7 C621.5,1261.1 624.3,1260.5 627.1,1259.1 C629.9,1257.7 632.6,1255.3 635.4,1252.3 C638.1,1249.2 641.2,1243.8 643.6,1240.8 C646,1237.8 647,1236.6 649.7,1234.1 C652.4,1231.6 656.6,1227.8 659.6,1225.9 C662.6,1224 665.1,1222.6 667.9,1222.6 C670.6,1222.6 673.4,1223.4 676.1,1225.9 C678.9,1228.4 681.6,1233 684.4,1237.4 C687.2,1241.8 690,1246.6 692.7,1252.3 C695.5,1258 698.1,1265.9 700.9,1271.5 C703.6,1277.1 706.2,1281.5 709.2,1285.7 C712.2,1289.9 715.8,1294.2 719.1,1296.6 C722.4,1299 725.7,1299.6 729,1299.9 C732.3,1300.2 735,1298.9 738.9,1298.2 C742.8,1297.5 747.7,1295.8 752.1,1295.8 C756.5,1295.8 763.1,1297.8 765.3,1298.2 L765.3,1298.2 C763.1,1297.8 756.5,1295.8 752.1,1295.8 C747.7,1295.8 742.8,1297.5 738.9,1298.2 C735,1298.9 732.3,1300.2 729,1299.9 C725.7,1299.6 722.4,1298.6 719.1,1296.6 C715.8,1294.6 712.2,1291.2 709.2,1287.7 C706.2,1284.2 703.6,1280.4 700.9,1275.5 C698.1,1270.6 695.5,1263.6 692.7,1258.3 C690,1253 687.2,1247.8 684.4,1243.4 C681.6,1239 678.9,1234.4 676.1,1231.9 C673.4,1229.4 670.6,1228.6 667.9,1228.6 C665.1,1228.6 662.6,1230 659.6,1231.9 C656.6,1233.8 652.4,1237.6 649.7,1240.1 C647,1242.6 646,1243.8 643.6,1246.8 C641.2,1249.8 638.1,1255.6 635.4,1258.3 C632.6,1261 629.9,1262 627.1,1263.1 C624.3,1264.2 621.5,1265.1 618.8,1264.7 C616,1264.3 613.4,1262.2 610.6,1260.6 C607.9,1259 605,1256.6 602.3,1255 C599.5,1253.4 596.9,1251.9 594.1,1251.1 C591.4,1250.3 588.5,1250 585.8,1250.4 C583,1250.8 580.4,1252.1 577.6,1253.7 C574.9,1255.3 572.1,1257.5 569.3,1260.3 C566.5,1263 563.8,1266.6 561,1270.2 C558.2,1273.8 555.5,1277.6 552.8,1281.8 C550,1286 547.2,1291.3 544.5,1295.6 C541.8,1299.9 539,1304.4 536.3,1307.8 C533.5,1311.2 530.8,1314.2 528,1315.8 C525.2,1317.4 523.1,1317.1 519.8,1317.2 C516.5,1317.3 510.9,1317 508.2,1316.4 C505.4,1315.9 504.8,1313.9 503.3,1313.9 C501.8,1313.9 499.8,1316 499.1,1316.4 Z" fill="#1a86ff" fill-opacity="0.95"/>
<path d="M499.1,1316.4 C499.8,1316 501.8,1313.9 503.3,1313.9 C504.8,1313.9 505.4,1315.9 508.2,1316.4 C510.9,1317 516.5,1317.5 519.8,1317.2 C523.1,1316.9 525.2,1316.9 528,1314.8 C530.8,1312.7 533.5,1308.7 536.3,1304.8 C539,1300.9 541.8,1296.3 544.5,1291.6 C547.2,1286.9 550,1281.2 552.8,1276.8 C555.5,1272.4 558.2,1268.8 561,1265.2 C563.8,1261.6 566.5,1258 569.3,1255.3 C572.1,1252.5 574.9,1250.3 577.6,1248.7 C580.4,1247.1 583,1245.7 585.8,1245.4 C588.5,1245.1 591.4,1246 594.1,1247.1 C596.9,1248.2 599.5,1250.1 602.3,1252 C605,1253.9 607.9,1256.8 610.6,1258.6 C613.4,1260.4 616,1262.3 618.8,1262.7 C621.5,1263.1 624.3,1262.3 627.1,1261.1 C629.9,1259.9 632.6,1258.2 635.4,1255.3 C638.1,1252.4 641.2,1246.8 643.6,1243.8 C646,1240.8 647,1239.6 649.7,1237.1 C652.4,1234.6 656.6,1230.8 659.6,1228.9 C662.6,1227 665.1,1225.6 667.9,1225.6 C670.6,1225.6 673.4,1226.4 676.1,1228.9 C678.9,1231.4 681.6,1236 684.4,1240.4 C687.2,1244.8 690,1249.8 692.7,1255.3 C695.5,1260.8 698.1,1268.3 700.9,1273.5 C703.6,1278.7 706.2,1282.9 709.2,1286.7 C712.2,1290.5 715.8,1294.4 719.1,1296.6 C722.4,1298.8 725.7,1299.6 729,1299.9 C732.3,1300.2 735,1298.9 738.9,1298.2 C742.8,1297.5 747.7,1295.8 752.1,1295.8 C756.5,1295.8 763.1,1297.8 765.3,1298.2" fill="none" stroke="#3a96ff" stroke-width="15" stroke-dasharray="1.1 1.4" stroke-opacity="0.75"/>
<path d="M499.1,1316.4 C499.8,1316 501.8,1313.9 503.3,1313.9 C504.8,1313.9 505.4,1315.9 508.2,1316.4 C510.9,1317 516.5,1317.5 519.8,1317.2 C523.1,1316.9 525.2,1316.9 528,1314.8 C530.8,1312.7 533.5,1308.7 536.3,1304.8 C539,1300.9 541.8,1296.3 544.5,1291.6 C547.2,1286.9 550,1281.2 552.8,1276.8 C555.5,1272.4 558.2,1268.8 561,1265.2 C563.8,1261.6 566.5,1258 569.3,1255.3 C572.1,1252.5 574.9,1250.3 577.6,1248.7 C580.4,1247.1 583,1245.7 585.8,1245.4 C588.5,1245.1 591.4,1246 594.1,1247.1 C596.9,1248.2 599.5,1250.1 602.3,1252 C605,1253.9 607.9,1256.8 610.6,1258.6 C613.4,1260.4 616,1262.3 618.8,1262.7 C621.5,1263.1 624.3,1262.3 627.1,1261.1 C629.9,1259.9 632.6,1258.2 635.4,1255.3 C638.1,1252.4 641.2,1246.8 643.6,1243.8 C646,1240.8 647,1239.6 649.7,1237.1 C652.4,1234.6 656.6,1230.8 659.6,1228.9 C662.6,1227 665.1,1225.6 667.9,1225.6 C670.6,1225.6 673.4,1226.4 676.1,1228.9 C678.9,1231.4 681.6,1236 684.4,1240.4 C687.2,1244.8 690,1249.8 692.7,1255.3 C695.5,1260.8 698.1,1268.3 700.9,1273.5 C703.6,1278.7 706.2,1282.9 709.2,1286.7 C712.2,1290.5 715.8,1294.4 719.1,1296.6 C722.4,1298.8 725.7,1299.6 729,1299.9 C732.3,1300.2 735,1298.9 738.9,1298.2 C742.8,1297.5 747.7,1295.8 752.1,1295.8 C756.5,1295.8 763.1,1297.8 765.3,1298.2" fill="none" stroke="#1082ff" stroke-width="10" stroke-linejoin="round" stroke-linecap="round"/>
</g>
<text x="494" y="1323.8" text-anchor="end" font-size="15.8">0</text>
<text x="494" y="1277.8" text-anchor="end" font-size="15.8">200</text>
<text x="494" y="1231.8" text-anchor="end" font-size="15.8">400</text>
<text x="494" y="1185.9" text-anchor="end" font-size="15.8">600</text>
<text x="494" y="1139.9" text-anchor="end" font-size="15.8">800</text>
<text x="494" y="1093.9" text-anchor="end" font-size="15.8">1000</text>
<text x="566.7" y="1339" text-anchor="middle" font-size="15.8">12</text>
<text x="632.8" y="1339" text-anchor="middle" font-size="15.8">24</text>
<text x="699" y="1339" text-anchor="middle" font-size="15.8">36</text>
<text x="765.1" y="1339" text-anchor="middle" font-size="15.8">48</text>
<text x="638.5" y="1360.6" text-anchor="middle" font-size="17.7">Time (h)</text>
<text transform="translate(454.6,1188) rotate(-90)" text-anchor="middle" font-size="18">RLU</text>
<text x="637.1" y="1076.4" text-anchor="middle" font-size="17.4">P<tspan font-style="italic" font-size="13.5" dy="5.6">pagA</tspan><tspan font-style="italic" dy="-5.6">-lux</tspan> expression</text>
<path d="M101,1433.5 V1664.1 H376.5" fill="none" stroke="#111111" stroke-width="1.55"/>
<path d="M95.7,1664.1 H101 M95.7,1587.5 H101 M95.7,1510.8 H101 M95.7,1434.2 H101 M168,1664.1 V1669.4 M234.5,1664.1 V1669.4 M300.9,1664.1 V1669.4 M367.4,1664.1 V1669.4 " stroke="#111111" stroke-width="1.55" fill="none"/>
<g>
<path d="M100,1662.5 L106,1657 L113,1645 L120,1629 L125,1612 L130,1591 L137,1572 L145,1558 L158,1541 L175,1524.2 L192,1511 L210.6,1501 L227.1,1494 L243.6,1490.4 L263,1488.1 L271.3,1481.3 L276,1487 L279.5,1477 L283,1486 L286.1,1478 L289,1485 L291.9,1453.2 L294,1462 L296,1458.1 L298,1467 L301,1456.5 L306,1470 L309.3,1487.6 L312.6,1483 L315.9,1504.1 L319.2,1490.9 L325.8,1498.5 L329,1496.8 L337.3,1508.4 L345.6,1514.3 L355.5,1516.8 L367,1519.3 L367,1545.3 L355.5,1542.8 L345.6,1540.3 L337.3,1536.4 L329,1524.8 L325.8,1526.5 L319.2,1520.9 L315.9,1534.1 L312.6,1513 L309.3,1517.6 L306,1502 L301,1492.5 L298,1503 L296,1494.1 L294,1498 L291.9,1489.2 L289,1515 L286.1,1506 L283,1514 L279.5,1503 L276,1513 L271.3,1507.3 L263,1512.1 L243.6,1512.4 L227.1,1516 L210.6,1523 L192,1533 L175,1546.2 L158,1563 L145,1578 L137,1592 L130,1609 L125,1628 L120,1643 L113,1655 L106,1663 L100,1664.5 Z" fill="url(#pinkv)" stroke="#ffa8a8" stroke-width="1" stroke-opacity="0.9"/>
<path d="M292,1437 V1530 M289.5,1437 h5 M289.5,1530 h5" stroke="#ffa8a8" stroke-width="0.9" fill="none"/>
<path d="M296.5,1444 V1520 M294,1444 h5 M294,1520 h5" stroke="#ffa8a8" stroke-width="0.9" fill="none"/>
<path d="M301,1440 V1520 M298.5,1440 h5 M298.5,1520 h5" stroke="#ffa8a8" stroke-width="0.9" fill="none"/>
<path d="M305,1465 V1530 M302.5,1465 h5 M302.5,1530 h5" stroke="#ffa8a8" stroke-width="0.9" fill="none"/>
<path d="M310,1480 V1540 M307.5,1480 h5 M307.5,1540 h5" stroke="#ffa8a8" stroke-width="0.9" fill="none"/>
<path d="M316,1485 V1555 M313.5,1485 h5 M313.5,1555 h5" stroke="#ffa8a8" stroke-width="0.9" fill="none"/>
<path d="M320,1490 V1540 M317.5,1490 h5 M317.5,1540 h5" stroke="#ffa8a8" stroke-width="0.9" fill="none"/>
<path d="M289,1470 V1538 M286.5,1470 h5 M286.5,1538 h5" stroke="#ffa8a8" stroke-width="0.9" fill="none"/>
<path d="M283,1475 V1532 M280.5,1475 h5 M280.5,1532 h5" stroke="#ffa8a8" stroke-width="0.9" fill="none"/>
<path d="M281,1480 V1530 M278.5,1480 h5 M278.5,1530 h5" stroke="#ffa8a8" stroke-width="0.9" fill="none"/>
<path d="M100,1663.5 L106,1660 L113,1650 L120,1636 L125,1620 L130,1600 L137,1582 L145,1568 L158,1552 L175,1535.2 L192,1522 L210.6,1512 L227.1,1505 L243.6,1501.4 L263,1500.1 L271.3,1494.3 L276,1500 L279.5,1490 L283,1500 L286.1,1492 L289,1500 L291.9,1471.2 L294,1480 L296,1476.1 L298,1485 L301,1474.5 L306,1486 L309.3,1502.6 L312.6,1498 L315.9,1519.1 L319.2,1505.9 L325.8,1512.5 L329,1510.8 L337.3,1522.4 L345.6,1527.3 L355.5,1529.8 L367,1532.3" fill="none" stroke="#ff6868" stroke-width="5" stroke-linejoin="round" stroke-linecap="round"/>
<path d="M100,1663 C101.4,1662.7 105.5,1662.8 108.2,1661.2 C111,1659.6 114,1657.2 116.5,1653.6 C119,1650 121.2,1645.2 123.1,1639.4 C125,1633.6 126.3,1625.6 128,1618.6 C129.7,1611.5 131.1,1603.6 133,1597.1 C134.9,1590.6 137.1,1584.9 139.6,1579.6 C142.1,1574.3 144.2,1570.4 147.8,1565.4 C151.4,1560.4 156,1554.8 161,1549.5 C166,1544.2 172.1,1538.3 177.6,1533.7 C183.1,1529.1 188.6,1525.4 194.1,1522.1 C199.6,1518.8 205.1,1516 210.6,1513.8 C216.1,1511.6 221.6,1510.2 227.1,1508.9 C232.6,1507.6 237.6,1506.4 243.6,1505.9 C249.6,1505.4 257,1505 263,1505.8 C269,1506.5 274,1508.8 279.5,1510.4 C285,1512 290.5,1513.3 296,1515.3 C301.5,1517.3 307.1,1519.5 312.6,1522.3 C318.1,1525.1 323.5,1529.5 329,1532.2 C334.5,1534.9 339.3,1536.6 345.6,1538.5 C351.9,1540.4 363.4,1542.7 367,1543.5 L367,1561.5 C363.4,1560.8 351.9,1559 345.6,1557.5 C339.3,1556 334.5,1554.7 329,1552.2 C323.5,1549.7 318.1,1545.3 312.6,1542.3 C307.1,1539.3 301.5,1536.4 296,1534.3 C290.5,1532.2 285,1530.8 279.5,1529.4 C274,1528 269,1526.5 263,1525.8 C257,1525 249.6,1524.7 243.6,1524.9 C237.6,1525.1 232.6,1525.8 227.1,1526.9 C221.6,1528.1 216.1,1529.6 210.6,1531.8 C205.1,1534 199.6,1536.8 194.1,1540.1 C188.6,1543.4 183.1,1547.5 177.6,1551.7 C172.1,1555.9 166,1560.9 161,1565.5 C156,1570.1 151.4,1575.1 147.8,1579.4 C144.2,1583.8 142.1,1587 139.6,1591.6 C137.1,1596.2 134.9,1600.9 133,1607.1 C131.1,1613.3 129.7,1621.9 128,1628.6 C126.3,1635.3 125,1642.2 123.1,1647.4 C121.2,1652.6 119,1656.6 116.5,1659.6 C114,1662.6 111,1664.3 108.2,1665.2 C105.5,1666.1 101.4,1665 100,1665 Z" fill="#1a86ff" fill-opacity="0.95"/>
<path d="M100,1664 C101.4,1663.9 105.5,1664.4 108.2,1663.2 C111,1662 114,1659.9 116.5,1656.6 C119,1653.3 121.2,1648.9 123.1,1643.4 C125,1637.9 126.3,1630.5 128,1623.6 C129.7,1616.7 131.1,1608.4 133,1602.1 C134.9,1595.8 137.1,1590.5 139.6,1585.6 C142.1,1580.6 144.2,1577.1 147.8,1572.4 C151.4,1567.7 156,1562.5 161,1557.5 C166,1552.5 172.1,1547.1 177.6,1542.7 C183.1,1538.3 188.6,1534.4 194.1,1531.1 C199.6,1527.8 205.1,1525 210.6,1522.8 C216.1,1520.6 221.6,1519.1 227.1,1517.9 C232.6,1516.7 237.6,1515.8 243.6,1515.4 C249.6,1515.1 257,1515 263,1515.8 C269,1516.5 274,1518.4 279.5,1519.9 C285,1521.4 290.5,1522.7 296,1524.8 C301.5,1526.9 307.1,1529.4 312.6,1532.3 C318.1,1535.2 323.5,1539.6 329,1542.2 C334.5,1544.8 339.3,1546.3 345.6,1548 C351.9,1549.7 363.4,1551.8 367,1552.5" fill="none" stroke="#3a96ff" stroke-width="14" stroke-dasharray="1.1 1.4" stroke-opacity="0.75"/>
<path d="M100,1664 C101.4,1663.9 105.5,1664.4 108.2,1663.2 C111,1662 114,1659.9 116.5,1656.6 C119,1653.3 121.2,1648.9 123.1,1643.4 C125,1637.9 126.3,1630.5 128,1623.6 C129.7,1616.7 131.1,1608.4 133,1602.1 C134.9,1595.8 137.1,1590.5 139.6,1585.6 C142.1,1580.6 144.2,1577.1 147.8,1572.4 C151.4,1567.7 156,1562.5 161,1557.5 C166,1552.5 172.1,1547.1 177.6,1542.7 C183.1,1538.3 188.6,1534.4 194.1,1531.1 C199.6,1527.8 205.1,1525 210.6,1522.8 C216.1,1520.6 221.6,1519.1 227.1,1517.9 C232.6,1516.7 237.6,1515.8 243.6,1515.4 C249.6,1515.1 257,1515 263,1515.8 C269,1516.5 274,1518.4 279.5,1519.9 C285,1521.4 290.5,1522.7 296,1524.8 C301.5,1526.9 307.1,1529.4 312.6,1532.3 C318.1,1535.2 323.5,1539.6 329,1542.2 C334.5,1544.8 339.3,1546.3 345.6,1548 C351.9,1549.7 363.4,1551.8 367,1552.5" fill="none" stroke="#1082ff" stroke-width="9" stroke-linejoin="round" stroke-linecap="round"/>
</g>
<text x="95.2" y="1669.7" text-anchor="end" font-size="15.8">0.0</text>
<text x="95.2" y="1593.1" text-anchor="end" font-size="15.8">0.5</text>
<text x="95.2" y="1516.4" text-anchor="end" font-size="15.8">1.0</text>
<text x="95.2" y="1439.8" text-anchor="end" font-size="15.8">1.5</text>
<text x="168" y="1684.9" text-anchor="middle" font-size="15.8">12</text>
<text x="234.5" y="1684.9" text-anchor="middle" font-size="15.8">24</text>
<text x="300.9" y="1684.9" text-anchor="middle" font-size="15.8">36</text>
<text x="367.4" y="1684.9" text-anchor="middle" font-size="15.8">48</text>
<text x="240" y="1706.9" text-anchor="middle" font-size="17.7">Time (h)</text>
<text transform="translate(63.9,1533.7) rotate(-90)" text-anchor="middle" font-size="18">OD<tspan font-size="14.2" dy="5.6">600</tspan></text>
<text x="238.9" y="1422.6" text-anchor="middle" font-size="17.4">P<tspan font-style="italic" font-size="13.5" dy="5.6">sigF</tspan><tspan font-style="italic" dy="-5.6">-lux</tspan> growth</text>
<path d="M500.6,1433.1 V1664.5 H777.7" fill="none" stroke="#111111" stroke-width="1.55"/>
<path d="M495.3,1664.5 H500.6 M495.3,1587.6 H500.6 M495.3,1510.7 H500.6 M495.3,1433.8 H500.6 M568.1,1664.5 V1669.8 M634.4,1664.5 V1669.8 M700.6,1664.5 V1669.8 M766.9,1664.5 V1669.8 " stroke="#111111" stroke-width="1.55" fill="none"/>
<g>
<path d="M501.6,1663.9 C506,1664 520.9,1665 528,1664.4 C535.1,1663.9 539,1662.4 544.5,1660.6 C550,1658.8 555.5,1655.8 561,1653.8 C566.5,1651.8 573.2,1650.6 577.6,1648.9 C582,1647.2 584.2,1646.6 587.5,1643.9 C590.8,1641.2 593.5,1636.8 597.4,1633 C601.2,1629.2 606.8,1624.1 610.6,1621.3 C614.5,1618.5 617.3,1618.8 620.5,1616.3 C623.7,1613.8 626.7,1610.3 629.9,1606.3 C633.1,1602.3 636.5,1597.1 639.8,1592.1 C643.1,1587.1 646.4,1581.9 649.7,1576.2 C653,1570.5 656.3,1563.9 659.6,1557.7 C662.9,1551.5 666.2,1544.6 669.5,1539.2 C672.8,1533.8 676.1,1529.3 679.4,1525.6 C682.7,1521.9 686.1,1519.2 689.4,1517 C692.7,1514.8 696.3,1512.2 699.3,1512.7 C702.3,1513.2 704.8,1516.5 707.5,1520.3 C710.2,1524.1 713,1529.6 715.8,1535.5 C718.5,1541.4 721.2,1548.3 724,1555.7 C726.8,1563.1 729.5,1571.6 732.3,1579.8 C735,1588 737.8,1597.4 740.5,1604.9 C743.2,1612.5 745.8,1619.2 748.8,1625.1 C751.8,1631 755.5,1636.4 758.7,1640.3 C761.9,1644.2 766.3,1647.3 767.8,1648.7 L767.8,1652.7 C766.3,1651.6 761.9,1649.2 758.7,1646.3 C755.5,1643.4 751.8,1639.7 748.8,1635.1 C745.8,1630.5 743.2,1625.1 740.5,1618.9 C737.8,1612.7 735,1605 732.3,1597.8 C729.5,1590.6 726.8,1582.1 724,1575.7 C721.2,1569.3 718.5,1564.1 715.8,1559.5 C713,1554.9 710.2,1551.1 707.5,1548.3 C704.8,1545.5 702.3,1543.2 699.3,1542.7 C696.3,1542.2 692.7,1543.8 689.4,1545 C686.1,1546.2 682.7,1547.2 679.4,1549.6 C676.1,1552 672.8,1555.2 669.5,1559.2 C666.2,1563.2 662.9,1568.9 659.6,1573.7 C656.3,1578.5 653,1583.5 649.7,1588.2 C646.4,1592.9 643.1,1597.8 639.8,1602.1 C636.5,1606.4 633.1,1610.9 629.9,1614.3 C626.7,1617.7 623.7,1620.1 620.5,1622.3 C617.3,1624.5 614.5,1624.8 610.6,1627.3 C606.8,1629.8 601.2,1633.9 597.4,1637 C593.5,1640.1 590.8,1643.6 587.5,1645.9 C584.2,1648.2 582,1649.2 577.6,1650.9 C573.2,1652.6 566.5,1654.2 561,1655.8 C555.5,1657.4 550,1659.2 544.5,1660.6 C539,1662 535.1,1663.9 528,1664.4 C520.9,1665 506,1664 501.6,1663.9 Z" fill="url(#pinkv)" stroke="#ffa8a8" stroke-width="1" stroke-opacity="0.9"/>
<path d="M501.6,1663.9 C506,1664 520.9,1665 528,1664.4 C535.1,1663.9 539,1662.2 544.5,1660.6 C550,1659 555.5,1656.6 561,1654.8 C566.5,1653 573.2,1651.6 577.6,1649.9 C582,1648.2 584.2,1647.4 587.5,1644.9 C590.8,1642.4 593.5,1638.4 597.4,1635 C601.2,1631.6 606.8,1626.9 610.6,1624.3 C614.5,1621.7 617.3,1621.6 620.5,1619.3 C623.7,1617 626.7,1614 629.9,1610.3 C633.1,1606.6 636.5,1601.8 639.8,1597.1 C643.1,1592.4 646.4,1587.4 649.7,1582.2 C653,1577 656.3,1571.2 659.6,1565.7 C662.9,1560.2 666.2,1553.9 669.5,1549.2 C672.8,1544.5 676.1,1540.6 679.4,1537.6 C682.7,1534.6 686.1,1532.7 689.4,1531 C692.7,1529.3 696.3,1527.2 699.3,1527.7 C702.3,1528.2 704.8,1531 707.5,1534.3 C710.2,1537.6 713,1542.3 715.8,1547.5 C718.5,1552.7 721.2,1558.8 724,1565.7 C726.8,1572.6 729.5,1581.1 732.3,1588.8 C735,1596.5 737.8,1605 740.5,1611.9 C743.2,1618.8 745.8,1624.9 748.8,1630.1 C751.8,1635.3 755.5,1639.9 758.7,1643.3 C761.9,1646.7 766.3,1649.5 767.8,1650.7" fill="none" stroke="#ff6868" stroke-width="5.5" stroke-linejoin="round" stroke-linecap="round"/>
<path d="M501.6,1663.9 C504.6,1663.9 515.4,1664.2 519.8,1663.9 C524.2,1663.6 525,1663.2 528,1662.3 C531,1661.3 534.6,1659.7 537.9,1658.2 C541.2,1656.7 544.5,1654.9 547.8,1653.2 C551.1,1651.5 554.7,1649.9 557.7,1648.2 C560.7,1646.5 563.5,1645.4 566,1643.3 C568.5,1641.2 570.4,1638.8 572.6,1635.7 C574.8,1632.6 577,1628.4 579.2,1624.8 C581.4,1621.2 583.3,1618.1 585.8,1613.9 C588.3,1609.7 591.4,1604.2 594.1,1599.7 C596.9,1595.2 599.5,1590.5 602.3,1587.1 C605,1583.7 607.6,1581 610.6,1579.1 C613.6,1577.2 617.2,1576.6 620.5,1575.8 C623.8,1575 627.1,1574.8 630.4,1574.2 C633.7,1573.6 637.5,1573.3 640.3,1572 C643,1570.7 644.8,1569.8 646.9,1566.2 C649,1562.7 650.6,1556.2 653,1550.7 C655.4,1545.2 658.5,1539.6 661.3,1533.5 C664,1527.4 666.8,1520.8 669.5,1514 C672.2,1507.2 675.3,1498 677.8,1492.5 C680.3,1487 682.5,1483.4 684.4,1481 C686.3,1478.6 687.8,1478.8 689.4,1478 C691,1477.2 692.4,1475.7 694.3,1476 C696.2,1476.3 699,1477.1 700.9,1480 C702.8,1482.9 704.2,1486.4 705.9,1493.5 C707.5,1500.6 709.1,1512.2 710.8,1522.6 C712.4,1532.9 714.1,1544.5 715.8,1555.6 C717.4,1566.7 718.8,1578.8 720.7,1589.3 C722.6,1599.8 724.8,1610.4 727.3,1618.4 C729.8,1626.4 732.6,1632 735.6,1637.3 C738.6,1642.6 741.9,1646.9 745.5,1650.2 C749.1,1653.5 753.4,1655.2 757.1,1657.2 C760.8,1659.2 766,1661.5 767.8,1662.3 L767.8,1662.3 C766,1661.8 760.8,1660.2 757.1,1659.2 C753.4,1658.2 749.1,1657.9 745.5,1656.2 C741.9,1654.5 738.6,1652.3 735.6,1649.3 C732.6,1646.3 729.8,1643.1 727.3,1638.4 C724.8,1633.7 722.6,1628.4 720.7,1621.3 C718.8,1614.2 717.4,1605.4 715.8,1595.6 C714.1,1585.8 712.4,1573.9 710.8,1562.6 C709.1,1551.2 707.5,1537.3 705.9,1527.5 C704.2,1517.7 702.8,1509.1 700.9,1504 C699,1498.9 696.2,1497.3 694.3,1497 C692.4,1496.7 691,1499 689.4,1502 C687.8,1505 686.3,1509.2 684.4,1515 C682.5,1520.8 680.3,1529.3 677.8,1536.5 C675.3,1543.7 672.2,1552.2 669.5,1558 C666.8,1563.8 664,1567.7 661.3,1571.5 C658.5,1575.3 655.4,1577.9 653,1580.7 C650.6,1583.5 649,1586.7 646.9,1588.2 C644.8,1589.8 643,1589.7 640.3,1590 C637.5,1590.3 633.7,1589.9 630.4,1590.2 C627.1,1590.5 623.8,1591 620.5,1591.8 C617.2,1592.6 613.6,1594.2 610.6,1595.1 C607.6,1596 605,1595 602.3,1597.1 C599.5,1599.2 596.9,1603.9 594.1,1607.7 C591.4,1611.5 588.3,1616.4 585.8,1619.9 C583.3,1623.4 581.4,1625.8 579.2,1628.8 C577,1631.8 574.8,1635.3 572.6,1637.7 C570.4,1640.1 568.5,1641.5 566,1643.3 C563.5,1645 560.7,1646.5 557.7,1648.2 C554.7,1649.9 551.1,1651.5 547.8,1653.2 C544.5,1654.9 541.2,1656.7 537.9,1658.2 C534.6,1659.7 531,1661.3 528,1662.3 C525,1663.2 524.2,1663.6 519.8,1663.9 C515.4,1664.2 504.6,1663.9 501.6,1663.9 Z" fill="#1a86ff" fill-opacity="0.95"/>
<path d="M501.6,1663.9 C504.6,1663.9 515.4,1664.2 519.8,1663.9 C524.2,1663.6 525,1663.2 528,1662.3 C531,1661.3 534.6,1659.7 537.9,1658.2 C541.2,1656.7 544.5,1654.9 547.8,1653.2 C551.1,1651.5 554.7,1649.9 557.7,1648.2 C560.7,1646.5 563.5,1645.2 566,1643.3 C568.5,1641.4 570.4,1639.5 572.6,1636.7 C574.8,1634 577,1630.1 579.2,1626.8 C581.4,1623.5 583.3,1620.8 585.8,1616.9 C588.3,1613.1 591.4,1607.8 594.1,1603.7 C596.9,1599.6 599.5,1594.9 602.3,1592.1 C605,1589.3 607.6,1588.5 610.6,1587.1 C613.6,1585.7 617.2,1584.6 620.5,1583.8 C623.8,1583 627.1,1582.7 630.4,1582.2 C633.7,1581.7 637.5,1581.8 640.3,1581 C643,1580.2 644.8,1579.8 646.9,1577.2 C649,1574.7 650.6,1569.8 653,1565.7 C655.4,1561.6 658.5,1557.5 661.3,1552.5 C664,1547.5 666.8,1542.3 669.5,1536 C672.2,1529.7 675.3,1521 677.8,1514.5 C680.3,1508 682.5,1501.4 684.4,1497 C686.3,1492.6 687.8,1490 689.4,1488 C691,1486 692.4,1484.7 694.3,1485 C696.2,1485.3 699,1485.9 700.9,1490 C702.8,1494.1 704.2,1500.7 705.9,1509.5 C707.5,1518.3 709.1,1531.6 710.8,1542.6 C712.4,1553.6 714.1,1565.1 715.8,1575.6 C717.4,1586 718.8,1596.5 720.7,1605.3 C722.6,1614.1 724.8,1622.1 727.3,1628.4 C729.8,1634.7 732.6,1639.2 735.6,1643.3 C738.6,1647.4 741.9,1650.7 745.5,1653.2 C749.1,1655.7 753.4,1656.7 757.1,1658.2 C760.8,1659.7 766,1661.6 767.8,1662.3" fill="none" stroke="#3a96ff" stroke-width="15" stroke-dasharray="1.1 1.4" stroke-opacity="0.75"/>
<path d="M501.6,1663.9 C504.6,1663.9 515.4,1664.2 519.8,1663.9 C524.2,1663.6 525,1663.2 528,1662.3 C531,1661.3 534.6,1659.7 537.9,1658.2 C541.2,1656.7 544.5,1654.9 547.8,1653.2 C551.1,1651.5 554.7,1649.9 557.7,1648.2 C560.7,1646.5 563.5,1645.2 566,1643.3 C568.5,1641.4 570.4,1639.5 572.6,1636.7 C574.8,1634 577,1630.1 579.2,1626.8 C581.4,1623.5 583.3,1620.8 585.8,1616.9 C588.3,1613.1 591.4,1607.8 594.1,1603.7 C596.9,1599.6 599.5,1594.9 602.3,1592.1 C605,1589.3 607.6,1588.5 610.6,1587.1 C613.6,1585.7 617.2,1584.6 620.5,1583.8 C623.8,1583 627.1,1582.7 630.4,1582.2 C633.7,1581.7 637.5,1581.8 640.3,1581 C643,1580.2 644.8,1579.8 646.9,1577.2 C649,1574.7 650.6,1569.8 653,1565.7 C655.4,1561.6 658.5,1557.5 661.3,1552.5 C664,1547.5 666.8,1542.3 669.5,1536 C672.2,1529.7 675.3,1521 677.8,1514.5 C680.3,1508 682.5,1501.4 684.4,1497 C686.3,1492.6 687.8,1490 689.4,1488 C691,1486 692.4,1484.7 694.3,1485 C696.2,1485.3 699,1485.9 700.9,1490 C702.8,1494.1 704.2,1500.7 705.9,1509.5 C707.5,1518.3 709.1,1531.6 710.8,1542.6 C712.4,1553.6 714.1,1565.1 715.8,1575.6 C717.4,1586 718.8,1596.5 720.7,1605.3 C722.6,1614.1 724.8,1622.1 727.3,1628.4 C729.8,1634.7 732.6,1639.2 735.6,1643.3 C738.6,1647.4 741.9,1650.7 745.5,1653.2 C749.1,1655.7 753.4,1656.7 757.1,1658.2 C760.8,1659.7 766,1661.6 767.8,1662.3" fill="none" stroke="#1082ff" stroke-width="10" stroke-linejoin="round" stroke-linecap="round"/>
</g>
<text x="494.8" y="1670.1" text-anchor="end" font-size="15.8">0</text>
<text x="494.8" y="1593.2" text-anchor="end" font-size="15.8">5000</text>
<text x="494.8" y="1516.3" text-anchor="end" font-size="15.8">10000</text>
<text x="494.8" y="1439.4" text-anchor="end" font-size="15.8">15000</text>
<text x="568.1" y="1685.3" text-anchor="middle" font-size="15.8">12</text>
<text x="634.4" y="1685.3" text-anchor="middle" font-size="15.8">24</text>
<text x="700.6" y="1685.3" text-anchor="middle" font-size="15.8">36</text>
<text x="766.9" y="1685.3" text-anchor="middle" font-size="15.8">48</text>
<text x="640.6" y="1706.9" text-anchor="middle" font-size="17.7">Time (h)</text>
<text transform="translate(448,1533.5) rotate(-90)" text-anchor="middle" font-size="18">RLU</text>
<text x="639.5" y="1422.7" text-anchor="middle" font-size="17.4">P<tspan font-style="italic" font-size="13.5" dy="5.6">sigF</tspan><tspan font-style="italic" dy="-5.6">-lux</tspan> expression</text>
<g clip-path="url(#cl0)"><g filter="url(#lutR)"><rect x="838" y="36" width="131" height="268" fill="#000"/><ellipse cx="899.9" cy="105.3" rx="64.8" ry="69.5" fill="url(#halo)"/><ellipse cx="899.9" cy="105.3" rx="55.8" ry="60.5" fill="url(#hAwt)"/><ellipse cx="906.2" cy="237.9" rx="63.3" ry="63.3" fill="url(#halo)"/><circle cx="906.2" cy="237.9" r="54.3" fill="url(#hAko)"/></g></g><rect x="839.9" y="36" width="129.1" height="0.9" fill="#fff"/><rect x="838" y="169" width="131" height="1" fill="#fff"/><rect x="838" y="36" width="0.9" height="133" fill="#fff"/><text x="846" y="61" font-size="19.5" fill="#fff">WT</text><text x="846" y="194" font-size="19.5" fill="#fff">&#916;<tspan font-style="italic">antC</tspan></text>
<g clip-path="url(#cl1)"><g filter="url(#lutB2)"><rect x="835" y="377" width="134" height="267" fill="rgb(6,6,6)"/><path d="M861.9,398.4 L872.8,394.3 L882.3,391.6 L893.2,390.9 L904.1,391.6 L915.0,393.0 L923.2,395.7 L930.0,401.2 L936.8,408.0 L942.3,414.8 L945.0,421.6 L950.4,425.7 L952.5,429.8 L949.1,436.6 L947.0,443.4 L945.7,454.3 L942.3,465.2 L937.5,473.4 L935.5,481.5 L934.1,490.4 L924.6,491.1 L912.3,489.7 L897.3,490.4 L881.0,489.7 L872.8,485.6 L866.0,478.8 L857.8,472.0 L851.0,463.8 L844.9,457.0 L844.2,446.1 L846.2,440.7 L848.3,435.2 L849.6,427.0 L846.9,418.9 L845.5,410.7 L852.3,406.6 L859.2,402.5 Z" fill="none" stroke="rgb(37,37,37)" stroke-width="5" stroke-linejoin="round"/><ellipse cx="901.4" cy="572.4" rx="53.1" ry="50.8" fill="url(#hBko)"/></g><path d="M861.9,398.4 L872.8,394.3 L882.3,391.6 L893.2,390.9 L904.1,391.6 L915.0,393.0 L923.2,395.7 L930.0,401.2 L936.8,408.0 L942.3,414.8 L945.0,421.6 L950.4,425.7 L952.5,429.8 L949.1,436.6 L947.0,443.4 L945.7,454.3 L942.3,465.2 L937.5,473.4 L935.5,481.5 L934.1,490.4 L924.6,491.1 L912.3,489.7 L897.3,490.4 L881.0,489.7 L872.8,485.6 L866.0,478.8 L857.8,472.0 L851.0,463.8 L844.9,457.0 L844.2,446.1 L846.2,440.7 L848.3,435.2 L849.6,427.0 L846.9,418.9 L845.5,410.7 L852.3,406.6 L859.2,402.5 Z" fill="url(#hBwt)" stroke="rgb(84,84,84)" stroke-width="2" stroke-linejoin="round" filter="url(#lutY)"/></g><text x="840" y="397" font-size="19.5" fill="#fff">WT</text><text x="842" y="525.5" font-size="19.5" fill="#fff">&#916;<tspan font-style="italic">antC</tspan></text>
<g clip-path="url(#cl2)"><g filter="url(#lutB)"><rect x="835" y="714" width="130" height="131" fill="#000"/><circle cx="898.8" cy="781.7" r="54.8" fill="url(#hCwt)"/></g><g filter="url(#lutR)"><rect x="835" y="838" width="130" height="143" fill="#000"/><ellipse cx="899.4" cy="911.4" rx="60.5" ry="67" fill="url(#halo)"/><ellipse cx="899.4" cy="911.4" rx="51.5" ry="58" fill="url(#hCko)"/></g><rect x="943.2" y="836" width="1.3" height="1.3" fill="#fff"/></g><text x="850" y="737.5" font-size="19.5" fill="#fff">WT</text><text x="837.7" y="863.4" font-size="19.5" fill="#fff">&#916;<tspan font-style="italic">antC</tspan></text>
<g clip-path="url(#cl3)"><g filter="url(#lutB)"><rect x="838" y="1065" width="128" height="267" fill="#000"/><ellipse cx="894.7" cy="1128.6" rx="53.4" ry="54" fill="url(#hDwt)"/><ellipse cx="899" cy="1258.9" rx="50.5" ry="49.8" fill="url(#hDko)"/></g></g><text x="843.6" y="1085.4" font-size="19.5" fill="#fff">WT</text><text x="841" y="1216" font-size="19.5" fill="#fff">&#916;<tspan font-style="italic">antC</tspan></text>
<g clip-path="url(#cl4)"><g filter="url(#lutR)"><rect x="837" y="1411" width="132" height="267" fill="#000"/><ellipse cx="900.4" cy="1475.4" rx="62" ry="64.7" fill="url(#halo)"/><ellipse cx="900.4" cy="1475.4" rx="53" ry="55.7" fill="url(#hEwt)"/><ellipse cx="901" cy="1607.7" rx="60.6" ry="61" fill="url(#halo)"/><ellipse cx="901" cy="1607.7" rx="51.6" ry="52" fill="url(#hEko)"/></g></g><rect x="966.9" y="1543.6" width="3" height="134" fill="#fff"/><rect x="837" y="1411" width="1.2" height="133" fill="#fff"/><text x="849" y="1435" font-size="19.5" fill="#fff">WT</text><text x="846" y="1566" font-size="19.5" fill="#fff">&#916;<tspan font-style="italic">antC</tspan></text>
<path d="M66.7,1750.9 H106" stroke="#1082ff" stroke-width="4" stroke-linecap="round"/><path d="M86.4,1740.9 L96.4,1760.9 H76.4 Z" fill="#1082ff"/><text x="126.4" y="1760" font-size="27.5" font-style="italic">B. anthracis<tspan font-style="normal"> WT P</tspan><tspan font-size="20" dy="7">x</tspan><tspan dy="-7">-lux</tspan></text><path d="M471,1750.8 H507" stroke="#ff6868" stroke-width="7" stroke-linecap="round"/><rect x="482.4" y="1744.2" width="14" height="13.5" fill="#ff6868"/><text x="529.3" y="1760" font-size="27.5" font-style="italic">B. anthracis <tspan font-style="normal">&#916;</tspan>antC<tspan font-style="normal"> P</tspan><tspan font-size="20" dy="7">x</tspan><tspan dy="-7">-lux</tspan></text>
</svg></body></html>
